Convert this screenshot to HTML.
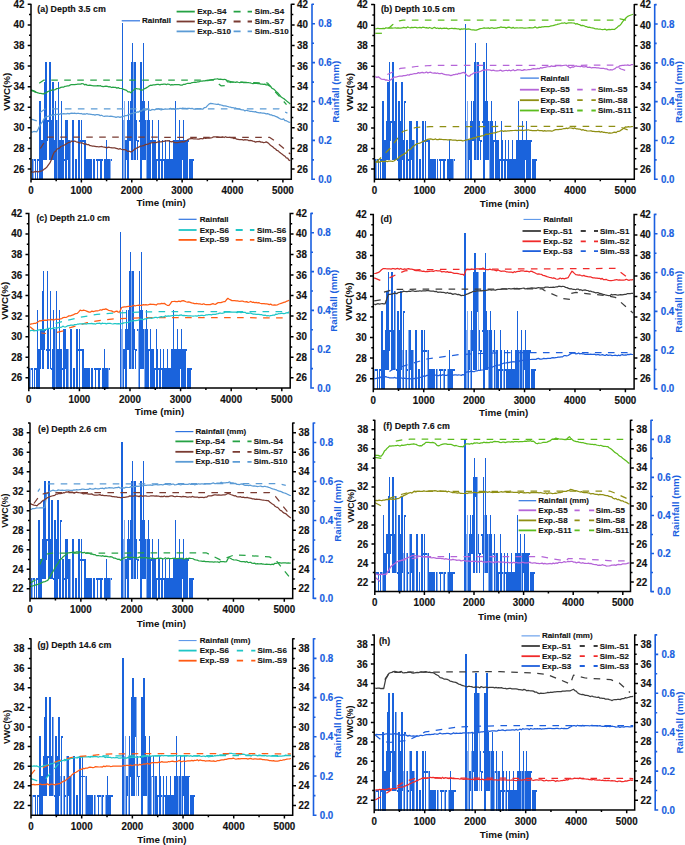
<!DOCTYPE html>
<html><head><meta charset="utf-8"><style>
html,body{margin:0;padding:0;background:#fff;}
svg{display:block;}
</style></head><body>
<svg width="685" height="845" viewBox="0 0 685 845">
<rect width="685" height="845" fill="#fff"/>
<path d="M33.5 179.8V159.36M57.5 179.8V120.47M70.5 179.8V139.91M110.5 179.8V159.36M123.5 179.8V120.47M124.5 179.8V101.02M133.5 160.36V62.13M140.5 179.8V120.47M146.5 179.8V120.47" stroke="#86aef0" stroke-width="1" fill="none" shape-rendering="crispEdges"/>
<path d="M32.5 179.8V159.36M34.5 161.33V159.36M35.5 179.8V159.36M37.5 179.8V159.36M38.5 161.33V159.36M39.5 179.8V159.36M40.5 179.8V101.02M41.5 179.8V139.91M42.5 179.8V139.91M43.5 160.36V120.47M44.5 140.91V120.47M45.5 160.36V81.58M46.5 160.36V62.13M47.5 140.91V120.47M48.5 122.44V120.47M49.5 141.88V139.91M50.5 160.36V62.13M51.5 160.36V120.47M52.5 141.88V139.91M53.5 160.36V81.58M54.5 179.8V139.91M55.5 179.8V101.02M56.5 179.8V120.47M58.5 160.36V81.58M59.5 179.8V139.91M60.5 179.8V139.91M61.5 102.99V101.02M62.5 179.8V139.91M63.5 179.8V139.91M64.5 161.33V159.36M65.5 179.8V120.47M66.5 179.8V120.47M67.5 160.36V120.47M68.5 179.8V139.91M69.5 179.8V139.91M72.5 179.8V120.47M73.5 179.8V120.47M75.5 179.8V159.36M76.5 179.8V159.36M78.5 179.8V120.47M79.5 179.8V120.47M80.5 141.88V139.91M81.5 179.8V120.47M82.5 141.88V139.91M83.5 141.88V139.91M84.5 179.8V139.91M85.5 179.8V139.91M86.5 179.8V159.36M87.5 179.8V159.36M88.5 179.8V159.36M89.5 179.8V159.36M90.5 179.8V159.36M91.5 179.8V159.36M93.5 179.8V159.36M94.5 179.8V159.36M96.5 161.33V159.36M97.5 179.8V159.36M98.5 161.33V159.36M99.5 161.33V159.36M100.5 179.8V159.36M101.5 179.8V159.36M102.5 161.33V159.36M104.5 179.8V159.36M105.5 179.8V159.36M106.5 179.8V139.91M107.5 179.8V159.36M108.5 179.8V159.36M109.5 179.8V159.36M111.5 161.33V159.36M122.5 179.8V23.24M125.5 179.8V139.91M126.5 160.36V139.91M127.5 179.8V120.47M128.5 179.8V101.02M129.5 140.91V120.47M130.5 140.91V101.02M131.5 160.36V62.13M132.5 160.36V42.69M134.5 102.02V62.13M135.5 160.36V62.13M136.5 140.91V120.47M137.5 160.36V139.91M138.5 141.88V139.91M139.5 122.44V120.47M141.5 179.8V62.13M142.5 160.36V101.02M143.5 160.36V42.69M144.5 160.36V101.02M145.5 160.36V120.47M147.5 179.8V120.47M148.5 179.8V101.02M149.5 179.8V120.47M150.5 179.8V139.91M151.5 141.88V139.91M152.5 179.8V120.47M153.5 179.8V139.91M154.5 179.8V139.91M155.5 179.8V139.91M156.5 179.8V159.36M157.5 161.33V159.36M158.5 179.8V120.47M159.5 179.8V139.91M160.5 161.33V159.36M161.5 179.8V159.36M162.5 179.8V139.91M163.5 161.33V159.36M164.5 179.8V159.36M165.5 179.8V139.91M166.5 179.8V159.36M167.5 179.8V159.36M168.5 179.8V159.36M169.5 179.8V139.91M170.5 179.8V159.36M171.5 179.8V159.36M172.5 179.8V159.36M173.5 179.8V139.91M174.5 179.8V139.91M175.5 179.8V101.02M176.5 179.8V139.91M177.5 179.8V139.91M178.5 179.8V139.91M179.5 179.8V120.47M180.5 179.8V139.91M181.5 179.8V139.91M182.5 160.36V139.91M183.5 179.8V120.47M184.5 179.8V139.91M185.5 179.8V139.91M186.5 179.8V139.91M187.5 179.8V139.91M188.5 141.88V139.91M189.5 179.8V159.36M190.5 179.8V159.36M191.5 179.8V159.36M192.5 179.8V159.36M193.5 161.33V159.36M45.5 160.36V62.13M49.5 160.36V62.13M44.5 160.36V81.58M52.5 160.36V81.58M58.5 179.8V81.58M39.5 179.8V101.02M55.5 179.8V101.02M61.5 179.8V101.02M122.5 179.8V23.24M132.5 160.36V42.69M143.5 160.36V42.69M140.5 179.8V62.13M131.5 160.36V62.13M134.5 160.36V62.13" stroke="#1a63dc" stroke-width="1" fill="none" shape-rendering="crispEdges"/>
<polyline points="31.3,90.7 32.62,90.88 33.94,91.21 35.26,92.12 36.58,92.41 37.9,92.8 39.25,93.28 40.6,93.37 41.95,93.58 43.3,94 44.62,93.06 45.94,93.1 47.26,91.93 48.58,91.28 49.9,90.7 51.26,90.43 52.62,89.64 53.99,89.96 55.35,89.53 56.71,88.63 58.07,88.46 59.44,88.19 60.8,87.4 62.17,87.03 63.55,87.18 64.92,86.28 66.3,86.14 67.67,85.85 69.05,85.79 70.42,84.87 71.8,84.5 73.27,84.58 74.73,84.52 76.2,84.48 77.67,84.06 79.13,84.23 80.6,84.1 81.91,83.67 83.22,83.75 84.53,84.81 85.84,84.4 87.15,85.15 88.46,85.47 89.77,85.14 91.08,85.35 92.39,85.74 93.7,85.8 95.07,85.75 96.44,85.96 97.81,85.67 99.17,85.92 100.54,85.74 101.91,86.45 103.28,86.73 104.65,86.47 106.02,86.24 107.39,86.41 108.76,86.88 110.12,86.67 111.49,87.51 112.86,87.2 114.23,87.29 115.6,87.4 116.92,88.14 118.24,87.56 119.56,88.48 120.88,88.5 122.2,88.5 123.65,89.43 125.1,89.83 126.55,90.34 128,91.91 129.45,91.83 130.9,92.8 132.37,90.82 133.83,89.94 135.3,88.5 136.62,88.61 137.94,89 139.26,88.88 140.58,90.06 141.9,90.2 143.35,89.5 144.8,88.59 146.25,87.88 147.7,86.94 149.15,85.89 150.6,85.2 151.92,85.3 153.24,84.78 154.56,84.89 155.88,84.61 157.2,84.38 158.52,84.4 159.84,84.78 161.16,84.42 162.48,84.42 163.8,84.1 165.14,84.14 166.48,84.57 167.81,84 169.15,84.32 170.49,85.05 171.82,84.6 173.16,84.85 174.5,84.7 176.02,84.56 177.54,84.65 179.06,84.64 180.58,85.06 182.1,85.2 183.53,84.27 184.95,84.39 186.38,83.75 187.8,83.26 189.22,83.4 190.65,83.3 192.07,82.56 193.5,82.4 194.93,82.2 196.35,82.28 197.78,81.82 199.2,81.77 200.62,81.24 202.05,81.16 203.47,80.79 204.9,80.9 206.31,80.42 207.72,80.51 209.14,80.33 210.55,79.89 211.96,79.55 213.38,79.68 214.79,79.21 216.2,79 217.56,78.75 218.91,79.37 220.27,79.05 221.63,79.26 222.99,79.64 224.34,79.4 225.7,79.5 227.6,81.8 228.93,81.8 230.26,82.5 231.59,81.96 232.92,82.19 234.25,82.11 235.58,82.3 236.91,81.8 238.24,82.23 239.57,82.58 240.9,82.4 242.23,82.23 243.56,82.65 244.89,82.73 246.22,82.5 247.55,82.52 248.88,82.73 250.21,82.84 251.54,83.24 252.87,83.57 254.2,83.3 255.53,83.5 256.86,83.33 258.19,83.66 259.52,83.56 260.85,84.04 262.18,84.07 263.51,84.45 264.84,84.11 266.17,85 267.5,84.7 269.02,85.62 270.54,86.46 272.06,88.42 273.58,89.02 275.1,90.4 276.62,92.07 278.14,93.3 279.66,95.18 281.18,97.04 282.7,98 284.22,98.91 285.74,100.14 287.26,101.6 288.78,102.65 290.3,104" fill="none" stroke="#25a244" stroke-width="1.25" stroke-linejoin="round"/>
<polyline points="31,89.8 36,91.8" fill="none" stroke="#25a244" stroke-width="1.25" stroke-linejoin="round" stroke-dasharray="6.6 6.4"/>
<polyline points="39.2,83.2 44,80 214,80 221,85.8 226,85.5 227.5,80.5 232,82 267.5,83 286.5,104.6" fill="none" stroke="#25a244" stroke-width="1.25" stroke-linejoin="round" stroke-dasharray="6.6 6.4"/>
<polyline points="31.2,131.8 32.6,132.04 34,131.45 35.4,131.53 36.8,131.8 38.23,129.06 39.67,125.87 41.1,123.5 42.57,121.52 44.03,118.87 45.5,116.9 46.97,116.8 48.43,116.1 49.9,116.22 51.37,114.98 52.83,115.41 54.3,114.7 55.65,114.59 56.99,114.28 58.34,114.18 59.68,114.29 61.03,113.67 62.38,113.8 63.72,113.67 65.07,113.96 66.42,113.79 67.76,113.43 69.11,113.92 70.45,113.31 71.8,113.2 73.17,113.34 74.54,113.05 75.91,113.52 77.28,113.34 78.64,113.25 80.01,113.73 81.38,113.5 82.75,114.19 84.12,113.94 85.49,114.19 86.86,113.52 88.22,114.07 89.59,114.1 90.96,114.27 92.33,114.66 93.7,114.7 95.02,115.16 96.33,114.53 97.64,114.69 98.96,114.91 100.28,115.65 101.59,115.25 102.91,115.99 104.22,116.3 105.53,116.16 106.85,116.08 108.17,116.23 109.48,116.31 110.8,116.23 112.11,116.32 113.42,116.7 114.74,116.85 116.06,117.3 117.37,116.98 118.69,116.93 120,117.4 121.36,116.81 122.72,116.73 124.09,116.16 125.45,115.69 126.81,115.67 128.18,114.66 129.54,114.51 130.9,113.6 132.21,113.28 133.52,113.09 134.83,112.63 136.14,112.57 137.45,111.86 138.76,112.01 140.07,110.8 141.38,111.12 142.69,109.76 144,109.9 145.32,110.2 146.64,109.71 147.96,109.15 149.28,110.18 150.6,110.42 151.92,109.49 153.24,109.52 154.56,109.94 155.88,109.12 157.2,109.22 158.52,108.7 159.84,109.47 161.16,109.92 162.48,109.39 163.8,109.3 165.15,108.98 166.49,109.14 167.84,109.03 169.19,108.94 170.53,108.33 171.88,109.13 173.23,108.63 174.57,109.46 175.92,109.15 177.27,108.63 178.61,108.89 179.96,108.26 181.31,108.64 182.65,108.06 184,108.4 185.36,108.4 186.71,108.71 188.07,108.3 189.43,108.46 190.79,108.62 192.14,108.42 193.5,109.03 194.86,109.07 196.21,108.93 197.57,108.64 198.93,108.9 200.29,108.7 201.64,109 203,109 204.5,107.55 206,107.28 207.5,105.67 209,104.16 210.5,103.3 212.4,103.63 214.3,104 215.63,104.22 216.96,104.38 218.29,104.08 219.62,104.82 220.95,104.99 222.28,105.34 223.61,105.88 224.94,105.83 226.27,106.14 227.6,106.5 228.93,106.92 230.26,107.02 231.59,107.65 232.92,107.59 234.25,108 235.58,107.96 236.91,108.74 238.24,108.96 239.57,109.11 240.9,109.7 242.23,109.84 243.56,109.87 244.89,110.96 246.22,110.26 247.55,110.63 248.88,111.02 250.21,111.43 251.54,111.34 252.87,111.51 254.2,111.91 255.53,111.65 256.86,112.48 258.19,112.53 259.52,112.82 260.85,112.74 262.18,113.13 263.51,113.04 264.84,113.45 266.17,113.83 267.5,113.7 268.84,114.08 270.18,114.89 271.52,114.91 272.86,115.7 274.21,115.7 275.55,116.33 276.89,116.84 278.23,117.63 279.57,118.5 280.91,119.13 282.25,119.41 283.59,118.86 284.94,120.57 286.28,120.71 287.62,121.51 288.96,122.14 290.3,122.3" fill="none" stroke="#5b9bd5" stroke-width="1.25" stroke-linejoin="round"/>
<polyline points="31.2,119.1 36.8,120.9" fill="none" stroke="#5b9bd5" stroke-width="1.25" stroke-linejoin="round" stroke-dasharray="6.6 6.4"/>
<polyline points="40,112.5 45.5,108.8 278.9,108.8 287.4,113.1" fill="none" stroke="#5b9bd5" stroke-width="1.25" stroke-linejoin="round" stroke-dasharray="6.6 6.4"/>
<polyline points="31.3,171.7 32.7,172.05 34.1,172.01 35.5,171.34 36.9,171.69 38.3,171.89 39.7,171.28 41.1,171.2 42.57,170.5 44.03,169.24 45.5,168.4 46.97,166.94 48.43,164.82 49.9,162.9 51.37,159.75 52.83,155.32 54.3,152 55.6,151.38 56.9,149.24 58.2,148.48 59.5,148.1 60.8,146.5 62.17,145.98 63.55,145.46 64.92,144.67 66.3,143.84 67.67,142.98 69.05,142.33 70.42,142.12 71.8,141 73.27,141.61 74.73,140.95 76.2,141.77 77.67,142.07 79.13,142.79 80.6,142.8 81.91,142.88 83.22,143.46 84.53,144.22 85.84,143.81 87.15,144.68 88.46,144.5 89.77,145.6 91.08,145.72 92.39,146.16 93.7,146.1 95.02,146.32 96.33,146.53 97.64,146.66 98.96,146.76 100.28,146.74 101.59,146.47 102.91,146.9 104.22,147.04 105.53,147.32 106.85,147.92 108.17,147.15 109.48,147.33 110.8,147.73 112.11,147.98 113.42,147.85 114.74,147.98 116.06,148.31 117.37,148.65 118.69,149.22 120,148.7 121.36,149.23 122.72,149.68 124.09,149.63 125.45,149.75 126.81,150.69 128.18,151.48 129.54,151.25 130.9,152 132.22,151.2 133.54,150.23 134.86,148.9 136.18,148.57 137.5,147.6 138.81,147.22 140.12,146.13 141.43,146.22 142.74,145.72 144.05,145.54 145.36,144.61 146.67,144.39 147.98,144.2 149.29,143.43 150.6,143.2 151.95,142.47 153.29,142.69 154.64,142.41 155.98,142.73 157.33,142.18 158.68,141.89 160.02,141.91 161.37,141.9 162.72,141.36 164.06,141.34 165.41,140.81 166.75,140.78 168.1,140.6 169.7,141.24 171.3,141.9 172.9,141.46 174.5,142.6 175.86,142.56 177.21,142.7 178.57,142.47 179.93,142.05 181.29,141.85 182.64,141.65 184,142 185.43,141.17 186.85,140.47 188.27,139.27 189.7,138.8 191.03,138.72 192.36,138.68 193.69,138.76 195.02,138.8 196.35,138.98 197.68,139.04 199.01,139.19 200.34,138.62 201.67,138.59 203,138.8 204.32,137.95 205.64,138.45 206.96,138.14 208.28,138.25 209.6,138.08 210.92,137.78 212.24,137.54 213.56,136.89 214.88,136.92 216.2,136.9 217.53,136.82 218.86,137.06 220.19,137.28 221.52,137.16 222.85,136.95 224.18,137.5 225.51,136.75 226.84,137.34 228.17,137.44 229.5,137.4 230.93,137.56 232.35,137.76 233.78,138.53 235.2,138.15 236.62,139.14 238.05,139.33 239.47,139.54 240.9,139.7 242.23,139.65 243.56,140.12 244.89,139.67 246.22,139.92 247.55,139.95 248.88,140.6 250.21,140.49 251.54,140.64 252.87,141.2 254.2,141.43 255.53,142.07 256.86,141.64 258.19,141.57 259.52,141.39 260.85,142.09 262.18,142.17 263.51,142.65 264.84,142.5 266.17,141.85 267.5,142.6 268.84,143.62 270.18,144.93 271.52,146.06 272.86,146.84 274.21,148.24 275.55,148.98 276.89,150.47 278.23,150.87 279.57,152.34 280.91,153.33 282.25,154.2 283.59,155.39 284.94,156.19 286.28,157.82 287.62,158.08 288.96,160.07 290.3,160.6" fill="none" stroke="#7a3b32" stroke-width="1.25" stroke-linejoin="round"/>
<polyline points="40.3,148.5 47.7,137.2 269.4,137.3 275,141 290.3,154" fill="none" stroke="#7a3b32" stroke-width="1.25" stroke-linejoin="round" stroke-dasharray="6.6 6.4"/>
<path d="M31 3.7V179.3H291.3V3.7M27.7 169.01H31M291.3 169.01H294.6M29 158.71H31M291.3 158.71H293.3M27.7 148.42H31M291.3 148.42H294.6M29 138.12H31M291.3 138.12H293.3M27.7 127.83H31M291.3 127.83H294.6M29 117.54H31M291.3 117.54H293.3M27.7 107.24H31M291.3 107.24H294.6M29 96.95H31M291.3 96.95H293.3M27.7 86.65H31M291.3 86.65H294.6M29 76.36H31M291.3 76.36H293.3M27.7 66.06H31M291.3 66.06H294.6M29 55.77H31M291.3 55.77H293.3M27.7 45.48H31M291.3 45.48H294.6M29 35.18H31M291.3 35.18H293.3M27.7 24.89H31M291.3 24.89H294.6M29 14.59H31M291.3 14.59H293.3M27.7 4.3H31M291.3 4.3H294.6M31 179.3V182.6M56.19 179.3V181.3M81.38 179.3V182.6M106.57 179.3V181.3M131.76 179.3V182.6M156.95 179.3V181.3M182.14 179.3V182.6M207.33 179.3V181.3M232.52 179.3V182.6M257.71 179.3V181.3M282.9 179.3V182.6" stroke="#000" stroke-width="1.5" fill="none"/>
<path d="M312 3.7V180M312 179.3H315M312 159.86H314M312 140.41H315M312 120.97H314M312 101.52H315M312 82.08H314M312 62.63H315M312 43.19H314M312 23.74H315M312 4.3H314" stroke="#1a5fe0" stroke-width="1.6" fill="none"/>
<g font-family="Liberation Sans" font-weight="bold" font-size="9.8" fill="#111" stroke="#111" stroke-width="0.15"><text transform="translate(24.4 172.56) scale(1 1.1)" text-anchor="end">26</text><text transform="translate(297.1 172.56) scale(1 1.1)">26</text><text transform="translate(24.4 151.97) scale(1 1.1)" text-anchor="end">28</text><text transform="translate(297.1 151.97) scale(1 1.1)">28</text><text transform="translate(24.4 131.38) scale(1 1.1)" text-anchor="end">30</text><text transform="translate(297.1 131.38) scale(1 1.1)">30</text><text transform="translate(24.4 110.79) scale(1 1.1)" text-anchor="end">32</text><text transform="translate(297.1 110.79) scale(1 1.1)">32</text><text transform="translate(24.4 90.2) scale(1 1.1)" text-anchor="end">34</text><text transform="translate(297.1 90.2) scale(1 1.1)">34</text><text transform="translate(24.4 69.61) scale(1 1.1)" text-anchor="end">36</text><text transform="translate(297.1 69.61) scale(1 1.1)">36</text><text transform="translate(24.4 49.03) scale(1 1.1)" text-anchor="end">38</text><text transform="translate(297.1 49.03) scale(1 1.1)">38</text><text transform="translate(24.4 28.44) scale(1 1.1)" text-anchor="end">40</text><text transform="translate(297.1 28.44) scale(1 1.1)">40</text><text transform="translate(24.4 7.85) scale(1 1.1)" text-anchor="end">42</text><text transform="translate(297.1 7.85) scale(1 1.1)">42</text><text transform="translate(31 194.15) scale(1 1.1)" text-anchor="middle">0</text><text transform="translate(81.38 194.15) scale(1 1.1)" text-anchor="middle">1000</text><text transform="translate(131.76 194.15) scale(1 1.1)" text-anchor="middle">2000</text><text transform="translate(182.14 194.15) scale(1 1.1)" text-anchor="middle">3000</text><text transform="translate(232.52 194.15) scale(1 1.1)" text-anchor="middle">4000</text><text transform="translate(282.9 194.15) scale(1 1.1)" text-anchor="middle">5000</text></g>
<g font-family="Liberation Sans" font-weight="bold" font-size="9.8" fill="#1a5fe0" stroke="#1a5fe0" stroke-width="0.15"><text transform="translate(318.2 182.85) scale(1 1.1)">0.0</text><text transform="translate(318.2 143.96) scale(1 1.1)">0.2</text><text transform="translate(318.2 105.07) scale(1 1.1)">0.4</text><text transform="translate(318.2 66.18) scale(1 1.1)">0.6</text><text transform="translate(318.2 27.29) scale(1 1.1)">0.8</text></g>
<text font-family="Liberation Sans" font-weight="bold" font-size="9.8" fill="#111" x="161.15" y="206.4" text-anchor="middle">Time (min)</text>
<text font-family="Liberation Sans" font-weight="bold" font-size="9.8" fill="#111" text-anchor="middle" transform="translate(9.8 91.8) rotate(-90)">VWC(%)</text>
<text font-family="Liberation Sans" font-weight="bold" font-size="9.8" fill="#1a5fe0" text-anchor="middle" transform="translate(339.3 91.8) rotate(-90)">Rainfall (mm)</text>
<text font-family="Liberation Sans" font-weight="bold" font-size="8.9" fill="#111" stroke="#111" stroke-width="0.12" x="37.3" y="12.2">(a) Depth 3.5 cm</text>
<g font-family="Liberation Sans" font-weight="bold" font-size="8.0" fill="#111" stroke="#111" stroke-width="0.12"><path d="M121.7 20.8H140" stroke="#2f74e0" stroke-width="1.2"/><text x="142" y="23.3">Rainfall</text><path d="M176.6 11.6H194.8" stroke="#25a244" stroke-width="1.8"/><path d="M233.6 11.6H240.6M247.6 11.6H252" stroke="#25a244" stroke-width="1.8"/><text x="197.2" y="14.1">Exp.-S4</text><text x="254.8" y="14.1">Sim.-S4</text><path d="M176.6 21.5H194.8" stroke="#7a3b32" stroke-width="1.8"/><path d="M233.6 21.5H240.6M247.6 21.5H252" stroke="#7a3b32" stroke-width="1.8"/><text x="197.2" y="24">Exp.-S7</text><text x="254.8" y="24">Sim.-S7</text><path d="M176.6 31.4H194.8" stroke="#5b9bd5" stroke-width="1.8"/><path d="M233.6 31.4H240.6M247.6 31.4H252" stroke="#5b9bd5" stroke-width="1.8"/><text x="197.2" y="33.9">Exp.-S10</text><text x="254.8" y="33.9">Sim.-S10</text></g>
<path d="M376.5 179.8V159.39M401.5 179.8V120.57M414.5 179.8V139.98M453.5 179.8V159.39M466.5 179.8V120.57M467.5 179.8V101.16M476.5 160.39V62.33M483.5 179.8V120.57M489.5 179.8V120.57" stroke="#86aef0" stroke-width="1" fill="none" shape-rendering="crispEdges"/>
<path d="M375.5 179.8V159.39M377.5 161.36V159.39M378.5 179.8V159.39M380.5 179.8V159.39M381.5 161.36V159.39M382.5 179.8V159.39M383.5 179.8V101.16M384.5 179.8V139.98M385.5 179.8V139.98M386.5 160.39V120.57M387.5 140.98V120.57M388.5 160.39V81.74M389.5 160.39V62.33M390.5 140.98V120.57M391.5 122.54V120.57M392.5 141.95V139.98M393.5 160.39V62.33M394.5 160.39V120.57M395.5 141.95V139.98M396.5 160.39V81.74M397.5 161.36V159.39M398.5 179.8V139.98M399.5 179.8V101.16M400.5 179.8V120.57M402.5 160.39V81.74M403.5 179.8V139.98M404.5 179.8V139.98M405.5 103.13V101.16M406.5 179.8V139.98M407.5 179.8V139.98M408.5 161.36V159.39M409.5 179.8V120.57M410.5 179.8V120.57M411.5 160.39V120.57M412.5 179.8V139.98M413.5 179.8V139.98M416.5 179.8V120.57M417.5 179.8V120.57M419.5 179.8V159.39M420.5 179.8V159.39M422.5 179.8V120.57M423.5 179.8V120.57M424.5 141.95V139.98M425.5 179.8V120.57M426.5 141.95V139.98M427.5 141.95V139.98M428.5 179.8V139.98M429.5 179.8V139.98M430.5 179.8V159.39M431.5 179.8V159.39M432.5 179.8V159.39M433.5 179.8V159.39M434.5 179.8V159.39M435.5 179.8V159.39M437.5 179.8V159.39M439.5 161.36V159.39M440.5 179.8V159.39M441.5 161.36V159.39M442.5 161.36V159.39M443.5 179.8V159.39M444.5 179.8V159.39M445.5 161.36V159.39M447.5 179.8V159.39M448.5 179.8V159.39M449.5 179.8V139.98M450.5 179.8V159.39M451.5 179.8V159.39M452.5 179.8V159.39M454.5 161.36V159.39M465.5 179.8V23.51M468.5 179.8V139.98M469.5 160.39V139.98M470.5 179.8V120.57M471.5 179.8V101.16M472.5 140.98V120.57M473.5 140.98V101.16M474.5 160.39V62.33M475.5 160.39V42.92M477.5 102.16V62.33M478.5 160.39V62.33M479.5 140.98V120.57M480.5 160.39V139.98M481.5 141.95V139.98M482.5 122.54V120.57M484.5 179.8V62.33M485.5 160.39V101.16M486.5 160.39V42.92M487.5 160.39V101.16M488.5 160.39V120.57M490.5 179.8V120.57M491.5 179.8V101.16M492.5 179.8V120.57M493.5 179.8V139.98M494.5 141.95V139.98M495.5 179.8V120.57M496.5 179.8V139.98M497.5 179.8V139.98M498.5 179.8V139.98M499.5 179.8V159.39M500.5 161.36V159.39M501.5 179.8V120.57M502.5 179.8V139.98M503.5 161.36V159.39M504.5 179.8V159.39M505.5 179.8V139.98M506.5 161.36V159.39M507.5 179.8V159.39M508.5 179.8V139.98M509.5 179.8V159.39M510.5 179.8V159.39M511.5 179.8V159.39M512.5 179.8V139.98M513.5 179.8V159.39M514.5 179.8V159.39M515.5 179.8V159.39M516.5 179.8V139.98M517.5 179.8V139.98M518.5 179.8V101.16M519.5 179.8V139.98M520.5 179.8V139.98M521.5 179.8V139.98M522.5 179.8V120.57M523.5 179.8V139.98M524.5 179.8V139.98M525.5 160.39V139.98M526.5 179.8V120.57M527.5 179.8V139.98M528.5 179.8V139.98M529.5 179.8V139.98M530.5 179.8V139.98M531.5 141.95V139.98M532.5 179.8V159.39M533.5 179.8V159.39M534.5 179.8V159.39M535.5 179.8V159.39M536.5 161.36V159.39M389.5 160.39V62.33M392.5 160.39V62.33M387.5 160.39V81.74M395.5 160.39V81.74M401.5 179.8V81.74M382.5 179.8V101.16M398.5 179.8V101.16M404.5 179.8V101.16M465.5 179.8V23.51M475.5 160.39V42.92M486.5 160.39V42.92M483.5 179.8V62.33M474.5 160.39V62.33M477.5 160.39V62.33" stroke="#1a63dc" stroke-width="1" fill="none" shape-rendering="crispEdges"/>
<polyline points="375.3,28.9 376.63,28.68 377.96,28.24 379.29,28.72 380.61,28.51 381.94,28.68 383.27,28.31 384.6,28.7 385.93,27.72 387.26,28.2 388.59,27.76 389.91,28.14 391.24,27.82 392.57,28.09 393.9,28 395.27,27.94 396.64,28.07 398.01,27.97 399.38,28.2 400.74,28.07 402.11,27.99 403.48,27.42 404.85,27.56 406.22,28.01 407.59,26.95 408.96,27.51 410.32,27.81 411.69,27.39 413.06,27.66 414.43,27.42 415.8,27.4 417.17,27.87 418.54,27.71 419.91,27.44 421.27,27.85 422.64,27.24 424.01,27.29 425.38,27.78 426.75,27.64 428.12,28.25 429.49,27.48 430.86,28.03 432.23,28.56 433.59,27.72 434.96,27.46 436.33,28.41 437.7,28 439.01,28.55 440.33,28.13 441.64,28.53 442.96,28.27 444.27,28.18 445.59,28.44 446.9,28.18 448.22,29.03 449.53,28.55 450.85,28.49 452.17,28.35 453.48,28.57 454.8,28.37 456.11,28.58 457.43,28.98 458.74,28.82 460.06,29.59 461.37,28.88 462.69,29.21 464,28.9 465.38,28.78 466.75,29.43 468.12,28.92 469.5,29.18 470.88,29.55 472.25,29.8 473.62,29.81 475,30.2 476.32,30.18 477.64,29.7 478.96,29.08 480.28,28.59 481.6,28.5 482.97,28.21 484.34,27.85 485.71,28.24 487.08,28.22 488.44,27.94 489.81,28.5 491.18,27.75 492.55,27.98 493.92,28.3 495.29,28.03 496.66,28.11 498.02,27.65 499.39,27.66 500.76,26.97 502.13,27.36 503.5,27.4 504.88,27.4 506.25,28.15 507.63,27.41 509.01,27.07 510.38,27.68 511.76,28.1 513.14,27.39 514.51,28.24 515.89,27.84 517.26,27.89 518.64,28 520.02,27.91 521.39,27.91 522.77,27.82 524.15,28.23 525.52,28.19 526.9,28 528.27,27.8 529.64,27.57 531.01,27.77 532.38,27.99 533.74,27.73 535.11,26.82 536.48,27.78 537.85,27.84 539.22,27.07 540.59,27.41 541.96,26.94 543.32,26.94 544.69,26.7 546.06,26.54 547.43,26.51 548.8,26.7 550.11,26.23 551.42,25.93 552.73,25.69 554.04,25.3 555.35,24.98 556.66,24.74 557.97,24.19 559.28,23.88 560.59,23.51 561.9,23 563.26,23.23 564.62,22.74 565.99,23.55 567.35,23.21 568.71,22.89 570.07,22.96 571.44,22.84 572.8,23 574.2,23.11 575.6,24.09 577,23.63 578.4,24.34 579.8,24.68 581.2,25.64 582.6,25.34 584,25.76 585.4,26.55 586.8,26.74 588.2,27.4 589.51,27.24 590.82,27.65 592.13,27.81 593.44,28.02 594.75,28.56 596.06,28.92 597.37,28.81 598.68,29.24 599.99,29 601.3,29.5 602.61,29.62 603.92,29.47 605.23,29.16 606.54,30.03 607.85,29.64 609.16,29.43 610.47,29.52 611.78,29.37 613.09,29.38 614.4,29.5 615.72,28.54 617.04,27.61 618.36,26.06 619.68,25.59 621,24.1 622.35,22.08 623.7,20.43 625.05,19 626.4,17.5 627.72,16.35 629.04,15.77 630.36,15.25 631.68,14.78 633,14.2" fill="none" stroke="#5cbd1e" stroke-width="1.25" stroke-linejoin="round"/>
<polyline points="375.3,33.3 381.9,33.3" fill="none" stroke="#5cbd1e" stroke-width="1.25" stroke-linejoin="round" stroke-dasharray="6.6 6.4"/>
<polyline points="388.4,28.5 392.8,24.5 399.4,20.8 403,20.2 616.6,20.2 620,18.8 629.7,20.8" fill="none" stroke="#5cbd1e" stroke-width="1.25" stroke-linejoin="round" stroke-dasharray="6.6 6.4"/>
<polyline points="375.3,76.7 376.84,77.35 378.38,76.84 379.92,78.02 381.46,79.2 383,79.3 384.3,79.28 385.6,80.14 386.9,79.98 388.2,80.45 389.5,80.6 390.97,79.61 392.43,78.64 393.9,77.1 395.27,77.04 396.65,76.79 398.02,76.49 399.4,76.2 400.77,76.09 402.15,76.12 403.52,75.63 404.9,75.6 406.25,75.46 407.59,74.75 408.94,75.13 410.28,74.41 411.63,74.45 412.98,73.99 414.32,73.66 415.67,73.74 417.02,73.39 418.36,72.64 419.71,73.13 421.05,72.68 422.4,72.3 423.79,72.81 425.18,72.61 426.57,71.97 427.96,73.01 429.35,72.3 430.75,72.16 432.14,73 433.53,73.05 434.92,72.93 436.31,73.45 437.7,73 439.02,73.72 440.34,73.6 441.66,73.29 442.98,73.92 444.3,74.31 445.62,74.73 446.94,74.96 448.26,74.86 449.58,75.16 450.9,75.6 452.21,75.21 453.52,74.57 454.83,74.61 456.14,74.02 457.45,74.3 458.76,73.33 460.07,73.65 461.38,73.04 462.69,72.57 464,72.3 465.47,73.71 466.93,75.17 468.4,76.2 469.72,76.01 471.04,74.5 472.36,74.05 473.68,73.03 475,72.7 476.36,72.66 477.73,72.24 479.09,71.84 480.45,71.51 481.81,70.71 483.17,70.2 484.54,70.3 485.9,69.7 487.37,69.95 488.83,69.76 490.3,70.17 491.77,70.61 493.23,70.11 494.7,70.6 496.17,70.78 497.64,70.85 499.11,70.66 500.59,70.14 502.06,71.08 503.53,70.79 505,70.5 506.37,70.26 507.74,70.79 509.11,70.11 510.48,70.77 511.84,70.43 513.21,69.7 514.58,70.72 515.95,70.34 517.32,69.7 518.69,69.97 520.06,69.79 521.42,70.34 522.79,70.38 524.16,69.6 525.53,69.97 526.9,70 528.27,69.53 529.64,69.53 531.01,69.36 532.38,68.96 533.74,68.74 535.11,68.76 536.48,68.96 537.85,68.35 539.22,68.75 540.59,67.67 541.96,68.16 543.32,67.54 544.69,67.48 546.06,67.08 547.43,66.75 548.8,66.7 550.15,66.6 551.49,65.82 552.84,66.34 554.18,66.19 555.53,66.27 556.88,65.54 558.22,65.64 559.57,65.51 560.92,65.93 562.26,65.51 563.61,65.42 564.95,65.25 566.3,65.2 567.73,66.26 569.17,67.33 570.6,67.8 572.07,66.97 573.53,67.21 575,66.1 576.37,65.94 577.74,66.48 579.11,66.29 580.48,66.64 581.84,66.17 583.21,66.95 584.58,66.99 585.95,66.35 587.32,67.36 588.69,67.48 590.06,67.21 591.42,67.97 592.79,67.63 594.16,67.6 595.53,67.56 596.9,67.8 598.29,67.77 599.68,68.13 601.07,68.27 602.46,68.25 603.85,68.48 605.25,68.94 606.64,68.89 608.03,69.67 609.42,70 610.81,69.66 612.2,70 613.67,69.3 615.13,68.58 616.6,67.11 618.07,67.23 619.53,65.94 621,65.6 622.33,65.29 623.67,65.33 625,65.05 626.33,65.25 627.67,64.84 629,65.38 630.33,65.33 631.67,64.55 633,64.6" fill="none" stroke="#b565d8" stroke-width="1.25" stroke-linejoin="round"/>
<polyline points="387.3,74.5 400.5,68.4 416,66.5 430,65.5 614.4,65.2 621,69 627.5,71.1" fill="none" stroke="#b565d8" stroke-width="1.25" stroke-linejoin="round" stroke-dasharray="6.6 6.4"/>
<polyline points="375.3,162.1 376.63,161.95 377.96,162.2 379.29,162.14 380.61,161.5 381.94,161.29 383.27,161.59 384.6,161.6 385.93,161 387.26,161.73 388.59,161.14 389.91,161.02 391.24,161.24 392.57,161.42 393.9,161 395.27,160.06 396.65,159.21 398.02,158.52 399.4,156.83 400.77,156.02 402.15,155.1 403.52,154.29 404.9,153.4 406.26,152.84 407.62,150.74 408.99,149.77 410.35,149.35 411.71,147.87 413.07,146.5 414.44,145.53 415.8,144.6 417.12,143.68 418.44,143.46 419.76,143.15 421.08,142.54 422.4,141.81 423.72,141.14 425.04,141.1 426.36,140.12 427.68,139.42 429,139.1 430.31,138.94 431.63,139.06 432.94,139.55 434.25,139.48 435.57,138.93 436.88,139.74 438.19,139.53 439.51,139.14 440.82,139.36 442.13,139.48 443.45,139.51 444.76,139.56 446.07,139.53 447.39,139.98 448.7,139.8 450.09,139.57 451.48,139.82 452.87,140.24 454.26,140.08 455.65,140.05 457.05,140.56 458.44,140.37 459.83,140.34 461.22,140.33 462.61,140.8 464,140.7 465.35,140.26 466.71,139.81 468.06,139.57 469.42,139.14 470.77,138.91 472.12,138.68 473.48,137.7 474.83,138.27 476.18,137.37 477.54,136.51 478.89,136.65 480.25,136.35 481.6,135.8 482.95,135.57 484.29,135.28 485.64,134.28 486.98,134.11 488.33,134.44 489.68,133.56 491.02,133.44 492.37,133.26 493.72,132.88 495.06,132.82 496.41,132.41 497.75,131.8 499.1,131.5 500.58,130.98 502.05,130.74 503.52,131.41 505,130.9 506.37,131.08 507.74,130.86 509.11,130.82 510.48,130.67 511.84,130.61 513.21,130.5 514.58,130.49 515.95,130.31 517.32,130.52 518.69,129.97 520.06,130.44 521.42,130.13 522.79,130.65 524.16,130.3 525.53,130 526.9,130.2 528.27,129.78 529.64,130.28 531.01,130.4 532.38,130.57 533.74,130.57 535.11,130.56 536.48,130.68 537.85,129.97 539.22,130.58 540.59,130.57 541.96,130.69 543.32,131.2 544.69,130.7 546.06,131.06 547.43,130.76 548.8,130.9 550.16,130.8 551.52,131.12 552.89,130.78 554.25,130.11 555.61,129.59 556.98,129.58 558.34,129.55 559.7,129.3 561.06,129.38 562.42,128.99 563.79,128.66 565.15,128.57 566.51,128.08 567.88,128.55 569.24,127.94 570.6,128 571.97,128.1 573.34,128.61 574.71,127.92 576.08,128.85 577.44,128.92 578.81,129.2 580.18,129.21 581.55,130.08 582.92,129.66 584.29,130.31 585.66,130.4 587.02,130.82 588.39,131 589.76,130.96 591.13,130.8 592.5,131.3 593.81,131.41 595.13,131.54 596.44,131.72 597.75,131.54 599.07,131.39 600.38,132.17 601.69,131.67 603.01,132.26 604.32,132.24 605.63,132.58 606.95,132.53 608.26,133.02 609.57,132.97 610.89,133.08 612.2,133 613.52,132.41 614.84,132.06 616.16,132.62 617.48,131.37 618.8,131.3 620.12,130.86 621.44,129.86 622.76,129.02 624.08,127.98 625.4,126.9 626.92,127.1 628.44,126.61 629.96,127 631.48,126.58 633,126.5" fill="none" stroke="#8f8f14" stroke-width="1.25" stroke-linejoin="round"/>
<polyline points="376.4,162.1 389.5,149 402.7,131.5 415.8,127.5 430,126.6 616.6,126.3 620,127 628.7,130.2" fill="none" stroke="#8f8f14" stroke-width="1.25" stroke-linejoin="round" stroke-dasharray="6.6 6.4"/>
<path d="M374.4 4V179.3H634.3V4M371.1 169.02H374.4M634.3 169.02H637.6M372.4 158.75H374.4M634.3 158.75H636.3M371.1 148.47H374.4M634.3 148.47H637.6M372.4 138.19H374.4M634.3 138.19H636.3M371.1 127.92H374.4M634.3 127.92H637.6M372.4 117.64H374.4M634.3 117.64H636.3M371.1 107.36H374.4M634.3 107.36H637.6M372.4 97.09H374.4M634.3 97.09H636.3M371.1 86.81H374.4M634.3 86.81H637.6M372.4 76.54H374.4M634.3 76.54H636.3M371.1 66.26H374.4M634.3 66.26H637.6M372.4 55.98H374.4M634.3 55.98H636.3M371.1 45.71H374.4M634.3 45.71H637.6M372.4 35.43H374.4M634.3 35.43H636.3M371.1 25.15H374.4M634.3 25.15H637.6M372.4 14.88H374.4M634.3 14.88H636.3M371.1 4.6H374.4M634.3 4.6H637.6M374.4 179.3V182.6M399.5 179.3V181.3M424.6 179.3V182.6M449.7 179.3V181.3M474.8 179.3V182.6M499.9 179.3V181.3M525 179.3V182.6M550.1 179.3V181.3M575.2 179.3V182.6M600.3 179.3V181.3M625.4 179.3V182.6" stroke="#000" stroke-width="1.5" fill="none"/>
<path d="M654.7 4V180M654.7 179.3H657.7M654.7 159.89H656.7M654.7 140.48H657.7M654.7 121.07H656.7M654.7 101.66H657.7M654.7 82.24H656.7M654.7 62.83H657.7M654.7 43.42H656.7M654.7 24.01H657.7M654.7 4.6H656.7" stroke="#1a5fe0" stroke-width="1.6" fill="none"/>
<g font-family="Liberation Sans" font-weight="bold" font-size="9.8" fill="#111" stroke="#111" stroke-width="0.15"><text transform="translate(367.8 172.57) scale(1 1.1)" text-anchor="end">26</text><text transform="translate(640.1 172.57) scale(1 1.1)">26</text><text transform="translate(367.8 152.02) scale(1 1.1)" text-anchor="end">28</text><text transform="translate(640.1 152.02) scale(1 1.1)">28</text><text transform="translate(367.8 131.47) scale(1 1.1)" text-anchor="end">30</text><text transform="translate(640.1 131.47) scale(1 1.1)">30</text><text transform="translate(367.8 110.91) scale(1 1.1)" text-anchor="end">32</text><text transform="translate(640.1 110.91) scale(1 1.1)">32</text><text transform="translate(367.8 90.36) scale(1 1.1)" text-anchor="end">34</text><text transform="translate(640.1 90.36) scale(1 1.1)">34</text><text transform="translate(367.8 69.81) scale(1 1.1)" text-anchor="end">36</text><text transform="translate(640.1 69.81) scale(1 1.1)">36</text><text transform="translate(367.8 49.26) scale(1 1.1)" text-anchor="end">38</text><text transform="translate(640.1 49.26) scale(1 1.1)">38</text><text transform="translate(367.8 28.7) scale(1 1.1)" text-anchor="end">40</text><text transform="translate(640.1 28.7) scale(1 1.1)">40</text><text transform="translate(367.8 8.15) scale(1 1.1)" text-anchor="end">42</text><text transform="translate(640.1 8.15) scale(1 1.1)">42</text><text transform="translate(374.4 194.15) scale(1 1.1)" text-anchor="middle">0</text><text transform="translate(424.6 194.15) scale(1 1.1)" text-anchor="middle">1000</text><text transform="translate(474.8 194.15) scale(1 1.1)" text-anchor="middle">2000</text><text transform="translate(525 194.15) scale(1 1.1)" text-anchor="middle">3000</text><text transform="translate(575.2 194.15) scale(1 1.1)" text-anchor="middle">4000</text><text transform="translate(625.4 194.15) scale(1 1.1)" text-anchor="middle">5000</text></g>
<g font-family="Liberation Sans" font-weight="bold" font-size="9.8" fill="#1a5fe0" stroke="#1a5fe0" stroke-width="0.15"><text transform="translate(660.9 182.85) scale(1 1.1)">0.0</text><text transform="translate(660.9 144.03) scale(1 1.1)">0.2</text><text transform="translate(660.9 105.21) scale(1 1.1)">0.4</text><text transform="translate(660.9 66.38) scale(1 1.1)">0.6</text><text transform="translate(660.9 27.56) scale(1 1.1)">0.8</text></g>
<text font-family="Liberation Sans" font-weight="bold" font-size="9.8" fill="#111" x="504.35" y="206.9" text-anchor="middle">Time (min)</text>
<text font-family="Liberation Sans" font-weight="bold" font-size="9.8" fill="#111" text-anchor="middle" transform="translate(352.5 91.95) rotate(-90)">VWC(%)</text>
<text font-family="Liberation Sans" font-weight="bold" font-size="9.8" fill="#1a5fe0" text-anchor="middle" transform="translate(681.8 91.95) rotate(-90)">Rainfall (mm)</text>
<text font-family="Liberation Sans" font-weight="bold" font-size="8.9" fill="#111" stroke="#111" stroke-width="0.12" x="380.9" y="12.2">(b) Depth 10.5 cm</text>
<g font-family="Liberation Sans" font-weight="bold" font-size="8.0" fill="#111" stroke="#111" stroke-width="0.12"><path d="M520.3 78.1H538.9" stroke="#2f74e0" stroke-width="1.2"/><text x="540.4" y="80.6">Rainfall</text><path d="M519.9 89.7H538.9" stroke="#b565d8" stroke-width="1.8"/><path d="M577.2 89.7H582.7M591.4 89.7H595.8" stroke="#b565d8" stroke-width="1.8"/><text x="540.4" y="92.2">Exp.-S5</text><text x="598" y="92.2">Sim.-S5</text><path d="M519.9 100.2H538.9" stroke="#8f8f14" stroke-width="1.8"/><path d="M577.2 100.2H582.7M591.4 100.2H595.8" stroke="#8f8f14" stroke-width="1.8"/><text x="540.4" y="102.7">Exp.-S8</text><text x="598" y="102.7">Sim.-S8</text><path d="M519.9 110.5H538.9" stroke="#5cbd1e" stroke-width="1.8"/><path d="M577.2 110.5H582.7M591.4 110.5H595.8" stroke="#5cbd1e" stroke-width="1.8"/><text x="540.4" y="113">Exp.-S11</text><text x="598" y="113">Sim.-S11</text></g>
<path d="M30.5 388.5V368.1M55.5 388.5V329.3M68.5 388.5V348.7M108.5 388.5V368.1M121.5 388.5V329.3M122.5 388.5V309.9M131.5 369.1V271.1M138.5 388.5V329.3M144.5 388.5V329.3" stroke="#86aef0" stroke-width="1" fill="none" shape-rendering="crispEdges"/>
<path d="M29.5 388.5V368.1M31.5 370.07V368.1M32.5 388.5V368.1M34.5 388.5V368.1M35.5 370.07V368.1M36.5 388.5V368.1M37.5 388.5V309.9M38.5 388.5V348.7M39.5 388.5V348.7M40.5 369.1V329.3M41.5 349.7V329.3M42.5 369.1V290.5M43.5 369.1V271.1M44.5 349.7V329.3M45.5 331.27V329.3M46.5 350.67V348.7M47.5 369.1V271.1M48.5 369.1V329.3M49.5 350.67V348.7M50.5 369.1V290.5M51.5 370.07V368.1M52.5 388.5V348.7M53.5 388.5V309.9M54.5 388.5V329.3M56.5 369.1V290.5M57.5 388.5V348.7M58.5 388.5V348.7M59.5 311.87V309.9M60.5 388.5V348.7M61.5 388.5V348.7M62.5 370.07V368.1M63.5 388.5V329.3M64.5 388.5V329.3M65.5 369.1V329.3M66.5 388.5V348.7M67.5 388.5V348.7M70.5 388.5V329.3M71.5 388.5V329.3M73.5 388.5V368.1M74.5 388.5V368.1M76.5 388.5V329.3M77.5 388.5V329.3M78.5 350.67V348.7M79.5 388.5V329.3M80.5 350.67V348.7M81.5 350.67V348.7M82.5 388.5V348.7M83.5 388.5V348.7M84.5 388.5V368.1M85.5 388.5V368.1M86.5 388.5V368.1M87.5 388.5V368.1M88.5 388.5V368.1M89.5 388.5V368.1M91.5 388.5V368.1M92.5 388.5V368.1M94.5 370.07V368.1M95.5 388.5V368.1M96.5 370.07V368.1M97.5 370.07V368.1M98.5 388.5V368.1M99.5 388.5V368.1M100.5 370.07V368.1M102.5 388.5V368.1M103.5 388.5V368.1M104.5 388.5V348.7M105.5 388.5V368.1M106.5 388.5V368.1M107.5 388.5V368.1M109.5 370.07V368.1M120.5 388.5V232.3M123.5 388.5V348.7M124.5 369.1V348.7M125.5 388.5V329.3M126.5 388.5V309.9M127.5 349.7V329.3M128.5 349.7V309.9M129.5 369.1V271.1M130.5 369.1V251.7M132.5 310.9V271.1M133.5 369.1V271.1M134.5 349.7V329.3M135.5 369.1V348.7M136.5 350.67V348.7M137.5 331.27V329.3M139.5 388.5V271.1M140.5 369.1V309.9M141.5 369.1V251.7M142.5 369.1V309.9M143.5 369.1V329.3M145.5 388.5V329.3M146.5 388.5V309.9M147.5 388.5V329.3M148.5 388.5V348.7M149.5 350.67V348.7M150.5 388.5V329.3M151.5 388.5V348.7M152.5 388.5V348.7M153.5 388.5V348.7M154.5 388.5V368.1M155.5 370.07V368.1M156.5 388.5V329.3M157.5 388.5V348.7M158.5 370.07V368.1M159.5 388.5V368.1M160.5 388.5V348.7M161.5 370.07V368.1M162.5 388.5V368.1M163.5 388.5V348.7M164.5 388.5V368.1M165.5 388.5V368.1M166.5 388.5V368.1M167.5 388.5V348.7M168.5 388.5V368.1M169.5 388.5V368.1M170.5 388.5V368.1M171.5 388.5V348.7M172.5 388.5V348.7M173.5 388.5V309.9M174.5 388.5V348.7M175.5 388.5V348.7M176.5 388.5V348.7M177.5 388.5V329.3M178.5 388.5V348.7M179.5 388.5V348.7M180.5 369.1V348.7M181.5 388.5V329.3M182.5 388.5V348.7M183.5 388.5V348.7M184.5 388.5V348.7M185.5 388.5V348.7M186.5 350.67V348.7M187.5 388.5V368.1M188.5 388.5V368.1M189.5 388.5V368.1M190.5 388.5V368.1M191.5 370.07V368.1M43.5 369.1V271.1M47.5 369.1V271.1M42.5 369.1V290.5M50.5 369.1V290.5M56.5 388.5V290.5M37.5 388.5V309.9M53.5 388.5V309.9M59.5 388.5V309.9M120.5 388.5V232.3M130.5 369.1V251.7M141.5 369.1V251.7M139.5 388.5V271.1M129.5 369.1V271.1M132.5 369.1V271.1" stroke="#1a63dc" stroke-width="1" fill="none" shape-rendering="crispEdges"/>
<polyline points="30,324.3 31.48,323.84 32.95,323.71 34.42,323.43 35.9,323.3 37.85,321.94 39.8,320.7 41.12,320.87 42.43,320.3 43.75,320.45 45.07,320.11 46.38,320.36 47.7,319.9 49.11,319.77 50.53,319.83 51.94,319.45 53.36,320.05 54.77,319.58 56.19,319.01 57.6,319.3 59,319.27 60.4,318.81 61.8,318.59 63.2,317.55 64.6,317.36 66,317.5 67.4,316.8 68.81,315.89 70.23,315.99 71.64,315.4 73.06,314.93 74.47,314.16 75.89,313.52 77.3,313.4 78.75,311.92 80.2,310.1 81.87,310.73 83.53,310.2 85.2,310.5 87.15,311.32 89.1,312.1 90.51,312.05 91.93,311.14 93.34,311.55 94.76,311.23 96.17,310.87 97.59,310.89 99,310.5 100.36,309.77 101.72,310.11 103.08,309.3 104.44,309.4 105.8,308.9 107.3,309.59 108.8,310.5 110.15,310.74 111.5,310.89 112.85,311.59 114.2,312.11 115.55,311.46 116.9,311.04 118.25,312.2 119.6,312.1 121.6,307.5 122.95,307.14 124.29,306.88 125.64,306.82 126.98,306.53 128.33,306.34 129.67,306.29 131.02,306.5 132.36,305.97 133.71,305.25 135.05,306.03 136.4,305.5 137.78,305.32 139.16,305.17 140.54,305.49 141.92,305.26 143.3,304.61 144.68,304.83 146.06,304.69 147.44,305 148.82,304.59 150.2,304.2 151.8,304.36 153.4,304.37 155,304.6 156.32,305 157.63,303.87 158.95,303.77 160.27,303.83 161.58,303.32 162.9,303.6 164.38,303.37 165.85,304.44 167.33,305.29 168.8,305.5 170.3,303.79 171.8,301.6 173.22,301.5 174.64,301.29 176.07,301.7 177.49,301.59 178.91,301.15 180.33,301.57 181.76,300.92 183.18,300.7 184.6,301.2 186,301.73 187.4,302.17 188.8,301.92 190.2,302.31 191.6,302.89 193,303.11 194.4,303.6 195.72,303.62 197.03,303.49 198.35,303.8 199.67,303.83 200.98,304.16 202.3,304.39 203.62,303.78 204.93,304.34 206.25,304.68 207.57,304.62 208.88,304.56 210.2,304.6 211.55,304.11 212.89,303.71 214.24,304.15 215.58,304.27 216.93,303.38 218.27,302.52 219.62,302.65 220.96,302.63 222.31,302.12 223.65,301.74 225,301.6 226.45,299.78 227.9,298.3 229.23,299.22 230.57,299.88 231.9,300.6 233.25,300.74 234.6,300.51 235.95,300.93 237.3,300.86 238.65,301.22 240,301.38 241.35,301.01 242.7,301.01 244.05,301.75 245.4,301.93 246.75,301.55 248.1,302.41 249.45,302.01 250.8,301.41 252.15,302.26 253.5,302.2 254.82,302.76 256.13,302.43 257.45,302.79 258.77,302.65 260.08,303.25 261.4,303.57 262.72,303.56 264.03,303.67 265.35,303.9 266.67,303.98 267.98,304.12 269.3,304.6 270.62,304.1 271.93,304.87 273.25,305.14 274.57,304.8 275.88,305.14 277.2,305 278.51,304.23 279.82,303.76 281.13,303.29 282.44,302.93 283.76,302.4 285.07,302.18 286.38,301.29 287.69,300.91 289,300.2" fill="none" stroke="#ff5b14" stroke-width="1.25" stroke-linejoin="round"/>
<polyline points="30,326.8 34,330 42,333 46,333.5" fill="none" stroke="#ff5b14" stroke-width="1.25" stroke-linejoin="round" stroke-dasharray="6.6 6.4"/>
<polyline points="57,332.3 63.4,330.8 69.4,327.8 87.1,322.7 100.9,320.3 114.7,318.8 146.2,317.6 288,317.8" fill="none" stroke="#ff5b14" stroke-width="1.25" stroke-linejoin="round" stroke-dasharray="6.6 6.4"/>
<polyline points="30,330.8 31.32,330.38 32.63,330.39 33.95,330.78 35.27,330.7 36.58,330.55 37.9,330.2 39.21,329.99 40.53,329.94 41.84,329.81 43.15,329.59 44.47,329.91 45.78,329.44 47.09,329.24 48.41,328.37 49.72,328.42 51.03,328.72 52.35,328.6 53.66,327.64 54.97,327.83 56.29,328.16 57.6,327.8 58.91,327.47 60.22,327.43 61.53,327.25 62.84,326.12 64.16,326.8 65.47,327 66.78,326.25 68.09,325.69 69.4,325.56 70.71,325.22 72.02,325.1 73.33,325.28 74.64,324.65 75.96,324.73 77.27,324.22 78.58,324.15 79.89,323.76 81.2,323.9 82.52,323.85 83.83,323.56 85.15,323.77 86.47,324.02 87.78,323.64 89.1,323.64 90.42,323.56 91.73,323.34 93.05,323.85 94.37,323.74 95.68,324.04 97,323.3 98.33,323.41 99.66,323.04 100.99,323.96 102.32,323.11 103.65,323.5 104.98,323.44 106.31,323.83 107.64,323.41 108.96,323.43 110.29,323.34 111.62,323.74 112.95,324.01 114.28,323.56 115.61,323.65 116.94,323.95 118.27,323.65 119.6,323.9 120.96,323.4 122.32,323.65 123.69,322.92 125.05,322.75 126.41,322.53 127.78,322.41 129.14,322.19 130.5,321.3 131.81,320.73 133.12,320.91 134.43,320.68 135.73,320.64 137.04,320.48 138.35,320.07 139.66,319.47 140.97,319.18 142.27,319.58 143.58,319.51 144.89,318.88 146.2,318.8 147.67,318.31 149.13,317.8 150.6,318.03 152.07,318.26 153.53,317.78 155,317.4 156.31,317.45 157.63,317.77 158.94,317.25 160.25,316.98 161.57,316.72 162.88,317.09 164.19,316.68 165.51,315.88 166.82,316.28 168.13,315.98 169.45,316.08 170.76,315.98 172.07,315.57 173.39,315.66 174.7,315.4 176.01,315.25 177.33,315.25 178.64,315.6 179.95,315.06 181.27,314.93 182.58,315.52 183.89,315.48 185.21,315.71 186.52,315.68 187.83,315.98 189.15,315.8 190.46,315.75 191.77,316 193.09,316.18 194.4,316 195.71,315.86 197.03,316.2 198.34,315.43 199.65,315.77 200.97,315.35 202.28,315.26 203.59,315.52 204.91,315.35 206.22,314.79 207.53,314.85 208.85,314.5 210.16,314.71 211.47,314.9 212.79,314.26 214.1,314.4 215.48,314.32 216.86,313.93 218.24,313.68 219.62,313.08 221,313.2 222.38,313.28 223.76,312.83 225.14,312.22 226.52,312.21 227.9,312.1 229.22,312.07 230.53,311.79 231.85,312.01 233.17,312.15 234.48,312.04 235.8,312.08 237.12,312.72 238.43,312.25 239.75,312.17 241.07,312.74 242.38,312.27 243.7,312.4 245.08,312.33 246.46,313.31 247.84,313.23 249.22,313.26 250.6,312.97 251.98,313.56 253.36,314.1 254.74,314.19 256.12,314.31 257.5,314.4 258.81,314.46 260.12,314.53 261.43,314.52 262.74,315.2 264.06,315.35 265.37,315.2 266.68,315.79 267.99,315.53 269.3,316 270.61,315.61 271.92,315.41 273.23,315.12 274.54,315.18 275.86,314.11 277.17,314.28 278.48,313.72 279.79,313.75 281.1,313.4 282.42,313.28 283.73,313.7 285.05,313.3 286.37,312.79 287.68,312.68 289,312.8" fill="none" stroke="#1fc6c6" stroke-width="1.25" stroke-linejoin="round"/>
<polyline points="55.6,323.3 67.4,320.3 79.2,317.4 97,314.4 118.7,312.8 138.4,312.1 163,311.6 289,311.7" fill="none" stroke="#1fc6c6" stroke-width="1.25" stroke-linejoin="round" stroke-dasharray="6.6 6.4"/>
<path d="M28.8 212.8V388H290.2V212.8M25.5 377.73H28.8M290.2 377.73H293.5M26.8 367.46H28.8M290.2 367.46H292.2M25.5 357.19H28.8M290.2 357.19H293.5M26.8 346.92H28.8M290.2 346.92H292.2M25.5 336.65H28.8M290.2 336.65H293.5M26.8 326.38H28.8M290.2 326.38H292.2M25.5 316.11H28.8M290.2 316.11H293.5M26.8 305.84H28.8M290.2 305.84H292.2M25.5 295.56H28.8M290.2 295.56H293.5M26.8 285.29H28.8M290.2 285.29H292.2M25.5 275.02H28.8M290.2 275.02H293.5M26.8 264.75H28.8M290.2 264.75H292.2M25.5 254.48H28.8M290.2 254.48H293.5M26.8 244.21H28.8M290.2 244.21H292.2M25.5 233.94H28.8M290.2 233.94H293.5M26.8 223.67H28.8M290.2 223.67H292.2M25.5 213.4H28.8M290.2 213.4H293.5M28.8 388V391.3M54.1 388V390M79.4 388V391.3M104.7 388V390M130 388V391.3M155.3 388V390M180.6 388V391.3M205.9 388V390M231.2 388V391.3M256.5 388V390M281.8 388V391.3" stroke="#000" stroke-width="1.5" fill="none"/>
<path d="M311 212.8V388.7M311 388H314M311 368.6H313M311 349.2H314M311 329.8H313M311 310.4H314M311 291H313M311 271.6H314M311 252.2H313M311 232.8H314M311 213.4H313" stroke="#1a5fe0" stroke-width="1.6" fill="none"/>
<g font-family="Liberation Sans" font-weight="bold" font-size="9.8" fill="#111" stroke="#111" stroke-width="0.15"><text transform="translate(22.2 381.28) scale(1 1.1)" text-anchor="end">26</text><text transform="translate(296 381.28) scale(1 1.1)">26</text><text transform="translate(22.2 360.74) scale(1 1.1)" text-anchor="end">28</text><text transform="translate(296 360.74) scale(1 1.1)">28</text><text transform="translate(22.2 340.2) scale(1 1.1)" text-anchor="end">30</text><text transform="translate(296 340.2) scale(1 1.1)">30</text><text transform="translate(22.2 319.66) scale(1 1.1)" text-anchor="end">32</text><text transform="translate(296 319.66) scale(1 1.1)">32</text><text transform="translate(22.2 299.11) scale(1 1.1)" text-anchor="end">34</text><text transform="translate(296 299.11) scale(1 1.1)">34</text><text transform="translate(22.2 278.57) scale(1 1.1)" text-anchor="end">36</text><text transform="translate(296 278.57) scale(1 1.1)">36</text><text transform="translate(22.2 258.03) scale(1 1.1)" text-anchor="end">38</text><text transform="translate(296 258.03) scale(1 1.1)">38</text><text transform="translate(22.2 237.49) scale(1 1.1)" text-anchor="end">40</text><text transform="translate(296 237.49) scale(1 1.1)">40</text><text transform="translate(22.2 216.95) scale(1 1.1)" text-anchor="end">42</text><text transform="translate(296 216.95) scale(1 1.1)">42</text><text transform="translate(28.8 402.85) scale(1 1.1)" text-anchor="middle">0</text><text transform="translate(79.4 402.85) scale(1 1.1)" text-anchor="middle">1000</text><text transform="translate(130 402.85) scale(1 1.1)" text-anchor="middle">2000</text><text transform="translate(180.6 402.85) scale(1 1.1)" text-anchor="middle">3000</text><text transform="translate(231.2 402.85) scale(1 1.1)" text-anchor="middle">4000</text><text transform="translate(281.8 402.85) scale(1 1.1)" text-anchor="middle">5000</text></g>
<g font-family="Liberation Sans" font-weight="bold" font-size="9.8" fill="#1a5fe0" stroke="#1a5fe0" stroke-width="0.15"><text transform="translate(317.2 391.55) scale(1 1.1)">0.0</text><text transform="translate(317.2 352.75) scale(1 1.1)">0.2</text><text transform="translate(317.2 313.95) scale(1 1.1)">0.4</text><text transform="translate(317.2 275.15) scale(1 1.1)">0.6</text><text transform="translate(317.2 236.35) scale(1 1.1)">0.8</text></g>
<text font-family="Liberation Sans" font-weight="bold" font-size="9.8" fill="#111" x="159.5" y="415" text-anchor="middle">Time (min)</text>
<text font-family="Liberation Sans" font-weight="bold" font-size="9.8" fill="#111" text-anchor="middle" transform="translate(7.8 300.7) rotate(-90)">VWC(%)</text>
<text font-family="Liberation Sans" font-weight="bold" font-size="9.8" fill="#1a5fe0" text-anchor="middle" transform="translate(337.2 300.7) rotate(-90)">Rainfall (mm)</text>
<text font-family="Liberation Sans" font-weight="bold" font-size="8.9" fill="#111" stroke="#111" stroke-width="0.12" x="36.4" y="221.1">(c) Depth 21.0 cm</text>
<g font-family="Liberation Sans" font-weight="bold" font-size="8.0" fill="#111" stroke="#111" stroke-width="0.12"><path d="M178.6 219.3H196.6" stroke="#2f74e0" stroke-width="1.2"/><text x="199.7" y="221.8">Rainfall</text><path d="M178.6 230H196.6" stroke="#1fc6c6" stroke-width="1.8"/><path d="M235.7 230H242.7M249.9 230H254.4" stroke="#1fc6c6" stroke-width="1.8"/><text x="199.7" y="232.5">Exp.-S6</text><text x="256.9" y="232.5">Sim.-S6</text><path d="M178.6 239.9H196.6" stroke="#ff5b14" stroke-width="1.8"/><path d="M235.7 239.9H242.7M249.9 239.9H254.4" stroke="#ff5b14" stroke-width="1.8"/><text x="199.7" y="242.4">Exp.-S9</text><text x="256.9" y="242.4">Sim.-S9</text></g>
<path d="M374.5 389.4V369.01M381.5 389.4V369.01M395.5 370.01V291.46M402.5 389.4V349.62M405.5 389.4V349.62M408.5 389.4V330.23M413.5 389.4V349.62M427.5 389.4V349.62M437.5 389.4V369.01M443.5 389.4V369.01M447.5 389.4V369.01M466.5 389.4V330.23M467.5 389.4V310.84M470.5 389.4V330.23M478.5 370.01V272.07M488.5 389.4V330.23M492.5 389.4V349.62M495.5 389.4V349.62M503.5 389.4V369.01M519.5 389.4V349.62M522.5 389.4V349.62" stroke="#86aef0" stroke-width="1" fill="none" shape-rendering="crispEdges"/>
<path d="M375.5 370.98V369.01M376.5 370.98V369.01M377.5 389.4V369.01M379.5 389.4V369.01M380.5 370.98V369.01M382.5 389.4V310.84M383.5 389.4V349.62M384.5 389.4V349.62M385.5 370.01V330.23M386.5 350.62V330.23M387.5 370.01V291.46M388.5 370.01V272.07M389.5 350.62V330.23M390.5 332.2V330.23M391.5 351.59V349.62M392.5 370.01V272.07M393.5 370.01V330.23M394.5 351.59V349.62M396.5 370.98V369.01M397.5 389.4V349.62M398.5 389.4V310.84M399.5 389.4V330.23M400.5 370.01V349.62M401.5 370.01V291.46M403.5 389.4V349.62M404.5 312.81V310.84M406.5 389.4V349.62M407.5 370.98V369.01M409.5 389.4V330.23M410.5 370.01V330.23M411.5 389.4V349.62M412.5 389.4V349.62M415.5 389.4V330.23M416.5 389.4V330.23M418.5 389.4V369.01M419.5 389.4V369.01M421.5 389.4V330.23M422.5 389.4V330.23M423.5 351.59V349.62M424.5 389.4V330.23M425.5 351.59V349.62M426.5 351.59V349.62M428.5 389.4V349.62M429.5 389.4V369.01M430.5 389.4V369.01M431.5 389.4V369.01M432.5 389.4V369.01M433.5 389.4V369.01M434.5 389.4V369.01M436.5 389.4V369.01M439.5 370.98V369.01M440.5 389.4V369.01M441.5 370.98V369.01M442.5 370.98V369.01M444.5 389.4V369.01M445.5 370.98V369.01M448.5 389.4V369.01M449.5 389.4V349.62M450.5 389.4V369.01M451.5 389.4V369.01M452.5 389.4V369.01M453.5 370.98V369.01M454.5 370.98V369.01M465.5 389.4V233.29M468.5 389.4V349.62M469.5 370.01V349.62M471.5 389.4V310.84M472.5 350.62V330.23M473.5 350.62V310.84M474.5 370.01V272.07M475.5 370.01V252.68M476.5 292.46V272.07M477.5 311.84V272.07M479.5 350.62V330.23M480.5 370.01V349.62M481.5 351.59V349.62M482.5 332.2V330.23M483.5 350.62V330.23M484.5 389.4V272.07M485.5 370.01V252.68M486.5 370.01V310.84M487.5 370.01V330.23M489.5 389.4V330.23M490.5 389.4V310.84M491.5 389.4V330.23M493.5 351.59V349.62M494.5 389.4V330.23M496.5 389.4V349.62M497.5 389.4V349.62M498.5 389.4V369.01M499.5 370.98V369.01M500.5 389.4V330.23M501.5 389.4V349.62M502.5 370.98V369.01M504.5 389.4V349.62M505.5 370.98V369.01M506.5 389.4V369.01M507.5 389.4V349.62M508.5 389.4V369.01M509.5 389.4V369.01M510.5 389.4V369.01M511.5 389.4V349.62M512.5 389.4V369.01M513.5 389.4V369.01M514.5 389.4V369.01M515.5 389.4V349.62M516.5 389.4V349.62M517.5 389.4V310.84M518.5 389.4V349.62M520.5 389.4V349.62M521.5 389.4V330.23M523.5 389.4V349.62M524.5 370.01V349.62M525.5 389.4V330.23M526.5 389.4V349.62M527.5 389.4V349.62M528.5 389.4V349.62M529.5 389.4V349.62M530.5 351.59V349.62M531.5 389.4V369.01M532.5 389.4V369.01M533.5 389.4V369.01M534.5 389.4V369.01M535.5 370.98V369.01M388.5 370.01V272.07M391.5 370.01V272.07M386.5 370.01V291.46M394.5 370.01V291.46M400.5 389.4V291.46M381.5 389.4V310.84M397.5 389.4V310.84M403.5 389.4V310.84M464.5 389.4V233.29M474.5 370.01V252.68M485.5 370.01V252.68M483.5 389.4V272.07M473.5 370.01V272.07M476.5 370.01V272.07" stroke="#1a63dc" stroke-width="1" fill="none" shape-rendering="crispEdges"/>
<polyline points="374.2,273.5 375.67,273.43 377.13,272.82 378.6,272.4 380.07,271.24 381.53,269.77 383,268.7 384.36,268.55 385.73,268.68 387.09,268.76 388.45,268.92 389.81,268.83 391.17,269.08 392.54,268.5 393.9,268.7 395.25,269.08 396.59,268.56 397.94,268.49 399.28,269.27 400.63,268.49 401.98,269.07 403.32,269.33 404.67,268.91 406.02,269.28 407.36,268.98 408.71,268.67 410.05,269.07 411.4,269.2 412.77,269.4 414.15,269.93 415.52,270.55 416.9,270.53 418.27,270.68 419.65,270.9 421.02,270.96 422.4,271.3 423.79,271.12 425.18,271.77 426.57,271.4 427.96,271.7 429.35,271.27 430.75,271.25 432.14,271.05 433.53,271.47 434.92,270.75 436.31,270.67 437.7,270.9 439.07,270.77 440.45,270.99 441.82,271.85 443.2,271.61 444.57,271.73 445.95,272.15 447.32,271.64 448.7,272.4 450.06,272.23 451.43,272.27 452.79,272.94 454.15,273.4 455.51,273.43 456.88,273.41 458.24,273.72 459.6,274 461.07,274.37 462.53,274.29 464,275.3 466.2,269.6 467.6,269.38 469,269.7 470.4,269.54 471.8,269 473.2,269.42 474.6,269.17 476,268.99 477.4,268.96 478.8,268.76 480.2,268.75 481.6,268.7 482.98,268.09 484.35,269.12 485.73,269.44 487.11,269.52 488.48,269.54 489.86,269.2 491.24,269.59 492.61,269.84 493.99,270 495.36,270.42 496.74,270.79 498.12,269.98 499.49,270.69 500.87,271.3 502.25,271.02 503.62,271.11 505,271.2 506.32,271.77 507.63,271.99 508.95,272.04 510.27,272.2 511.58,272.15 512.9,272.7 514.22,271.68 515.53,272.25 516.85,271.51 518.17,271.37 519.48,271.35 520.8,270.8 522.2,270.92 523.6,270.99 525,271.43 526.4,271.23 527.8,271.29 529.2,272.03 530.6,271.2 531.98,271.36 533.36,272.19 534.74,272.75 536.12,273.51 537.5,274.12 538.88,273.91 540.26,274.25 541.64,274.48 543.02,275.35 544.4,275.7 545.71,276.1 547.02,276.6 548.33,276.98 549.64,277.5 550.96,277.51 552.27,278.24 553.58,277.93 554.89,278.39 556.2,279 557.52,279.24 558.84,278.88 560.17,278.04 561.49,278.82 562.81,278.29 564.13,278.81 565.46,278.43 566.78,278.04 568.1,277.7 570.05,274.27 572,271.2 573.33,272.34 574.67,273.61 576,274.7 577.31,274.8 578.62,275.21 579.93,274.96 581.24,275.55 582.56,275.86 583.87,275.4 585.18,276.18 586.49,276.39 587.8,276.7 589.11,276.79 590.42,276.78 591.73,277.39 593.04,277.84 594.36,277.83 595.67,278.04 596.98,278.08 598.29,278.35 599.6,278.32 600.91,279.11 602.22,278.34 603.53,279.71 604.84,279.66 606.16,279.38 607.47,280.02 608.78,280.34 610.09,280.56 611.4,280.6 612.76,280.44 614.11,280.21 615.47,279.83 616.83,279.55 618.18,280.23 619.54,279.97 620.89,280.09 622.25,280.2 623.61,280.16 624.96,279.93 626.32,279.26 627.67,279.84 629.03,280.31 630.39,279.79 631.74,279.85 633.1,279.6" fill="none" stroke="#f02a2a" stroke-width="1.25" stroke-linejoin="round"/>
<polyline points="374.2,277.9 380.8,280.6" fill="none" stroke="#f02a2a" stroke-width="1.25" stroke-linejoin="round" stroke-dasharray="6.6 6.4"/>
<polyline points="389.5,277.9 398.3,273.5 404.9,270.9 420,269.6 615.4,268.4 627.2,277.3" fill="none" stroke="#f02a2a" stroke-width="1.25" stroke-linejoin="round" stroke-dasharray="6.6 6.4"/>
<polyline points="374.2,304.2 375.56,304.64 376.93,303.96 378.29,303.73 379.65,304.1 381.01,303.75 382.38,303.61 383.74,303.91 385.1,303.8 386.75,299.21 388.4,294.4 389.77,294.29 391.15,294.07 392.52,293.86 393.9,293.36 395.27,293.11 396.65,293.69 398.02,292.65 399.4,292.26 400.77,292.46 402.15,291.98 403.52,291.11 404.9,291.5 406.27,291.51 407.64,291.51 409.01,291.22 410.38,291.46 411.74,290.97 413.11,290.82 414.48,291.28 415.85,291.46 417.22,291.09 418.59,291.19 419.96,290.73 421.32,291.16 422.69,290.95 424.06,290.8 425.43,290.85 426.8,290.6 428.17,290.6 429.54,290.82 430.91,291.02 432.27,291.23 433.64,291.09 435.01,291.7 436.38,291.3 437.75,292.37 439.12,292.07 440.49,292.05 441.86,292.4 443.23,292.29 444.59,292.51 445.96,293.27 447.33,292.45 448.7,293.3 450.09,293.11 451.48,293.66 452.87,294.38 454.26,293.94 455.65,293.89 457.05,294.55 458.44,294.37 459.83,294.92 461.22,295.56 462.61,295.45 464,295.5 465.47,294.77 466.93,294.13 468.4,293.57 469.87,292.84 471.33,292.41 472.8,291.5 474.11,291.22 475.43,291.39 476.74,290.92 478.05,290.92 479.37,290.86 480.68,290.58 481.99,290.97 483.31,290.41 484.62,290.77 485.93,290.29 487.25,290.24 488.56,289.83 489.87,289.53 491.19,290.17 492.5,290 493.89,289.85 495.28,290.27 496.67,289.61 498.06,289.39 499.44,289.33 500.83,289.47 502.22,288.95 503.61,288.91 505,288.9 506.35,289.01 507.69,288.78 509.04,288.49 510.38,288.82 511.73,288.97 513.07,288.66 514.42,288.48 515.76,288.67 517.11,288.42 518.45,288.76 519.8,288.61 521.15,288.56 522.49,288.25 523.84,288.15 525.18,288.84 526.53,288.64 527.87,288.35 529.22,288.26 530.56,288.04 531.91,287.92 533.25,288.18 534.6,288.1 535.94,288.41 537.28,287.91 538.62,287.71 539.96,287.75 541.3,287.87 542.65,287.91 543.99,287.87 545.33,287.17 546.67,287.04 548.01,287.17 549.35,287.5 550.69,287.25 552.03,287.44 553.37,287.23 554.71,287.26 556.05,286.98 557.4,286.89 558.74,286.24 560.08,286.38 561.42,286.68 562.76,286.27 564.1,286.5 565.58,287.35 567.05,287.59 568.52,288.4 570,288.9 571.37,288.74 572.74,289.27 574.11,289.27 575.48,289.73 576.85,289.13 578.22,289.01 579.58,290.03 580.95,289.65 582.32,290.58 583.69,290.01 585.06,289.96 586.43,290.45 587.8,290.5 589.11,291.34 590.43,291.04 591.74,291.57 593.05,291.91 594.37,292.3 595.68,292.88 596.99,292.73 598.31,292.73 599.62,293.48 600.93,293.7 602.25,294.03 603.56,294.63 604.87,294.74 606.19,295.22 607.5,295.4 608.81,295.52 610.12,295.5 611.43,294.44 612.74,295.04 614.06,294.5 615.37,294.61 616.68,294.94 617.99,295.16 619.3,294.8 620.68,294.6 622.06,294.8 623.44,294.54 624.82,294.32 626.2,294.3 627.58,293.53 628.96,293.62 630.34,293.64 631.72,293.26 633.1,293.4" fill="none" stroke="#3c3c3c" stroke-width="1.25" stroke-linejoin="round"/>
<polyline points="374.2,300.9 380.8,299.8" fill="none" stroke="#3c3c3c" stroke-width="1.25" stroke-linejoin="round" stroke-dasharray="6.6 6.4"/>
<polyline points="384,292.2 393.9,289.3 542.4,288.9 544.4,290.5 562.2,298.4 570,299.3 571,293.4 576,292.4 603.5,295.4 615.4,297.4 633.1,313.1" fill="none" stroke="#3c3c3c" stroke-width="1.25" stroke-linejoin="round" stroke-dasharray="6.6 6.4"/>
<polyline points="374.2,378.7 375.67,378.56 377.13,378.09 378.6,377.81 380.07,377.07 381.53,377.66 383,377 384.31,377.23 385.62,376.61 386.94,377.09 388.25,377.31 389.56,377.99 390.87,377.77 392.18,377.85 393.5,377.87 394.81,377.42 396.12,378.16 397.43,377.78 398.74,377.79 400.06,377.51 401.37,377.93 402.68,378.61 403.99,378.23 405.3,378.34 406.62,378.54 407.93,378.73 409.24,378.41 410.55,378.85 411.86,378.49 413.18,378.54 414.49,378.44 415.8,378.7 417.18,378.18 418.55,377.78 419.93,377.4 421.3,377.12 422.68,376.68 424.05,375.85 425.43,376.17 426.8,375.4 428.13,375.43 429.46,375.29 430.79,375.37 432.11,375.56 433.44,376.06 434.77,375.03 436.1,375.05 437.43,375.63 438.76,375.58 440.09,374.93 441.41,375.47 442.74,374.63 444.07,375.2 445.4,375.31 446.73,375.34 448.06,374.91 449.39,374.59 450.71,375.66 452.04,374.52 453.37,375.22 454.7,374.89 456.03,374.94 457.36,375.07 458.69,374.87 460.01,375 461.34,375.38 462.67,374.58 464,374.8 466.2,372.1 467.6,371.99 469,371.98 470.4,371.2 471.8,371.3 473.2,371.6 474.6,371.57 476,370.75 477.4,370.75 478.8,370.27 480.2,370.32 481.6,370 482.98,369.83 484.35,369.58 485.73,369.06 487.11,368.24 488.48,367.89 489.86,367.56 491.24,366.85 492.61,367.02 493.99,366.28 495.36,365.72 496.74,365.24 498.12,365.16 499.49,365.12 500.87,364.4 502.25,363.73 503.62,363.21 505,363 506.31,362.91 507.62,362.3 508.93,362.69 510.24,362.19 511.56,362.14 512.87,361.74 514.18,361.78 515.49,361.88 516.8,361.4 518.18,361.49 519.56,360.86 520.94,361.03 522.32,360.4 523.7,360.42 525.08,360.36 526.46,359.89 527.84,359.89 529.22,359.73 530.6,359.5 531.92,359.35 533.23,359.32 534.55,359.35 535.87,359.47 537.18,358.61 538.5,358.31 539.82,359.14 541.13,359.02 542.45,358.82 543.77,358.43 545.08,358.68 546.4,358.72 547.72,358.31 549.03,358.3 550.35,358.46 551.67,357.94 552.98,357.6 554.3,357.9 555.68,357.56 557.06,357.35 558.44,357.04 559.82,357.2 561.2,356.99 562.58,356.88 563.96,355.62 565.34,355.58 566.72,355.91 568.1,355.5 570.05,354.17 572,353.1 573.31,353.2 574.62,352.92 575.93,353.88 577.24,353.68 578.56,352.93 579.87,353.87 581.18,353.48 582.49,353.94 583.8,353.9 585.15,354.47 586.49,354.26 587.84,354.22 589.18,354.38 590.53,354.04 591.87,354.39 593.22,354.45 594.56,354.24 595.91,354.82 597.25,354.61 598.6,354.57 599.95,355.15 601.29,354.96 602.64,354.62 603.98,355.29 605.33,355.41 606.67,354.53 608.02,355.46 609.36,355.09 610.71,355.21 612.05,355.59 613.4,355.5 614.71,355.24 616.03,355.47 617.34,355.76 618.65,355.08 619.97,355.73 621.28,354.81 622.59,354.7 623.91,355.26 625.22,354.91 626.53,355.03 627.85,354.3 629.16,354.61 630.47,354.14 631.79,354.34 633.1,354.5" fill="none" stroke="#1f5fdc" stroke-width="1.25" stroke-linejoin="round"/>
<polyline points="378.6,378.7 391.7,370 404.9,365.6 426.8,359 459.6,354.6 480,353.5 505,352.6 633.1,352.6" fill="none" stroke="#1f5fdc" stroke-width="1.25" stroke-linejoin="round" stroke-dasharray="6.6 6.4"/>
<path d="M373.3 213.8V388.9H634.1V213.8M370 378.64H373.3M634.1 378.64H637.4M371.3 368.37H373.3M634.1 368.37H636.1M370 358.11H373.3M634.1 358.11H637.4M371.3 347.84H373.3M634.1 347.84H636.1M370 337.58H373.3M634.1 337.58H637.4M371.3 327.31H373.3M634.1 327.31H636.1M370 317.05H373.3M634.1 317.05H637.4M371.3 306.78H373.3M634.1 306.78H636.1M370 296.52H373.3M634.1 296.52H637.4M371.3 286.25H373.3M634.1 286.25H636.1M370 275.99H373.3M634.1 275.99H637.4M371.3 265.72H373.3M634.1 265.72H636.1M370 255.46H373.3M634.1 255.46H637.4M371.3 245.19H373.3M634.1 245.19H636.1M370 234.93H373.3M634.1 234.93H637.4M371.3 224.66H373.3M634.1 224.66H636.1M370 214.4H373.3M634.1 214.4H637.4M373.3 388.9V392.2M398.51 388.9V390.9M423.72 388.9V392.2M448.93 388.9V390.9M474.14 388.9V392.2M499.35 388.9V390.9M524.56 388.9V392.2M549.77 388.9V390.9M574.98 388.9V392.2M600.19 388.9V390.9M625.4 388.9V392.2" stroke="#000" stroke-width="1.5" fill="none"/>
<path d="M654.5 213.8V389.6M654.5 388.9H657.5M654.5 369.51H656.5M654.5 350.12H657.5M654.5 330.73H656.5M654.5 311.34H657.5M654.5 291.96H656.5M654.5 272.57H657.5M654.5 253.18H656.5M654.5 233.79H657.5M654.5 214.4H656.5" stroke="#1a5fe0" stroke-width="1.6" fill="none"/>
<g font-family="Liberation Sans" font-weight="bold" font-size="9.8" fill="#111" stroke="#111" stroke-width="0.15"><text transform="translate(366.7 382.19) scale(1 1.1)" text-anchor="end">26</text><text transform="translate(639.9 382.19) scale(1 1.1)">26</text><text transform="translate(366.7 361.66) scale(1 1.1)" text-anchor="end">28</text><text transform="translate(639.9 361.66) scale(1 1.1)">28</text><text transform="translate(366.7 341.13) scale(1 1.1)" text-anchor="end">30</text><text transform="translate(639.9 341.13) scale(1 1.1)">30</text><text transform="translate(366.7 320.6) scale(1 1.1)" text-anchor="end">32</text><text transform="translate(639.9 320.6) scale(1 1.1)">32</text><text transform="translate(366.7 300.07) scale(1 1.1)" text-anchor="end">34</text><text transform="translate(639.9 300.07) scale(1 1.1)">34</text><text transform="translate(366.7 279.54) scale(1 1.1)" text-anchor="end">36</text><text transform="translate(639.9 279.54) scale(1 1.1)">36</text><text transform="translate(366.7 259.01) scale(1 1.1)" text-anchor="end">38</text><text transform="translate(639.9 259.01) scale(1 1.1)">38</text><text transform="translate(366.7 238.48) scale(1 1.1)" text-anchor="end">40</text><text transform="translate(639.9 238.48) scale(1 1.1)">40</text><text transform="translate(366.7 217.95) scale(1 1.1)" text-anchor="end">42</text><text transform="translate(639.9 217.95) scale(1 1.1)">42</text><text transform="translate(373.3 403.75) scale(1 1.1)" text-anchor="middle">0</text><text transform="translate(423.72 403.75) scale(1 1.1)" text-anchor="middle">1000</text><text transform="translate(474.14 403.75) scale(1 1.1)" text-anchor="middle">2000</text><text transform="translate(524.56 403.75) scale(1 1.1)" text-anchor="middle">3000</text><text transform="translate(574.98 403.75) scale(1 1.1)" text-anchor="middle">4000</text><text transform="translate(625.4 403.75) scale(1 1.1)" text-anchor="middle">5000</text></g>
<g font-family="Liberation Sans" font-weight="bold" font-size="9.8" fill="#1a5fe0" stroke="#1a5fe0" stroke-width="0.15"><text transform="translate(660.7 392.45) scale(1 1.1)">0.0</text><text transform="translate(660.7 353.67) scale(1 1.1)">0.2</text><text transform="translate(660.7 314.89) scale(1 1.1)">0.4</text><text transform="translate(660.7 276.12) scale(1 1.1)">0.6</text><text transform="translate(660.7 237.34) scale(1 1.1)">0.8</text></g>
<text font-family="Liberation Sans" font-weight="bold" font-size="9.8" fill="#111" x="503.7" y="415.9" text-anchor="middle">Time (min)</text>
<text font-family="Liberation Sans" font-weight="bold" font-size="9.8" fill="#111" text-anchor="middle" transform="translate(352.1 301.65) rotate(-90)">VWC(%)</text>
<text font-family="Liberation Sans" font-weight="bold" font-size="9.8" fill="#1a5fe0" text-anchor="middle" transform="translate(682 301.65) rotate(-90)">Rainfall (mm)</text>
<text font-family="Liberation Sans" font-weight="bold" font-size="8.9" fill="#111" stroke="#111" stroke-width="0.12" x="380.6" y="222.3">(d)</text>
<g font-family="Liberation Sans" font-weight="bold" font-size="8.0" fill="#111" stroke="#111" stroke-width="0.12"><path d="M523.5 219.4H540.9" stroke="#4f8fe8" stroke-width="1.0"/><text x="543.5" y="221.9">Rainfall</text><path d="M522.5 231H540.9" stroke="#3c3c3c" stroke-width="1.8"/><path d="M580.7 231H585.8M594 231H598" stroke="#3c3c3c" stroke-width="1.8"/><text x="543.2" y="233.5">Exp.-S1</text><text x="600" y="233.5">Sim.-S1</text><path d="M522.5 241.3H540.9" stroke="#f02a2a" stroke-width="1.8"/><path d="M580.7 241.3H585.8M594 241.3H598" stroke="#f02a2a" stroke-width="1.8"/><text x="543.2" y="243.8">Exp.-S2</text><text x="600" y="243.8">Sim.-S2</text><path d="M522.5 251.1H540.9" stroke="#1f5fdc" stroke-width="1.8"/><path d="M580.7 251.1H585.8M594 251.1H598" stroke="#1f5fdc" stroke-width="1.8"/><text x="543.2" y="253.6">Exp.-S3</text><text x="600" y="253.6">Sim.-S3</text></g>
<path d="M32.5 598.9V578.41M57.5 598.9V539.43M70.5 598.9V558.92M110.5 598.9V578.41M123.5 598.9V539.43M124.5 598.9V519.94M133.5 579.41V480.97M140.5 598.9V539.43M146.5 598.9V539.43" stroke="#86aef0" stroke-width="1" fill="none" shape-rendering="crispEdges"/>
<path d="M31.5 598.9V578.41M33.5 580.39V578.41M34.5 598.9V578.41M36.5 598.9V578.41M37.5 580.39V578.41M38.5 598.9V578.41M39.5 598.9V519.94M40.5 598.9V558.92M41.5 598.9V558.92M42.5 579.41V539.43M43.5 559.92V539.43M44.5 579.41V500.46M45.5 579.41V480.97M46.5 559.92V539.43M47.5 541.41V539.43M48.5 560.9V558.92M49.5 579.41V480.97M50.5 579.41V539.43M51.5 560.9V558.92M52.5 579.41V500.46M53.5 580.39V578.41M54.5 598.9V558.92M55.5 598.9V519.94M56.5 598.9V539.43M58.5 579.41V500.46M59.5 598.9V558.92M60.5 598.9V558.92M61.5 521.92V519.94M62.5 598.9V558.92M63.5 598.9V558.92M64.5 580.39V578.41M65.5 598.9V539.43M66.5 598.9V539.43M67.5 579.41V539.43M68.5 598.9V558.92M69.5 598.9V558.92M72.5 598.9V539.43M73.5 598.9V539.43M75.5 598.9V578.41M76.5 598.9V578.41M78.5 598.9V539.43M79.5 598.9V539.43M80.5 560.9V558.92M81.5 598.9V539.43M82.5 560.9V558.92M83.5 560.9V558.92M84.5 598.9V558.92M85.5 598.9V558.92M86.5 598.9V578.41M87.5 598.9V578.41M88.5 598.9V578.41M89.5 598.9V578.41M90.5 598.9V578.41M91.5 598.9V578.41M93.5 598.9V578.41M94.5 598.9V578.41M96.5 580.39V578.41M97.5 598.9V578.41M98.5 580.39V578.41M99.5 580.39V578.41M100.5 598.9V578.41M101.5 598.9V578.41M102.5 580.39V578.41M104.5 598.9V578.41M105.5 598.9V578.41M106.5 598.9V558.92M107.5 598.9V578.41M108.5 598.9V578.41M109.5 598.9V578.41M111.5 580.39V578.41M122.5 598.9V441.99M125.5 598.9V558.92M126.5 579.41V558.92M127.5 598.9V539.43M128.5 598.9V519.94M129.5 559.92V539.43M130.5 559.92V519.94M131.5 579.41V480.97M132.5 579.41V461.48M134.5 520.94V480.97M135.5 579.41V480.97M136.5 559.92V539.43M137.5 579.41V558.92M138.5 560.9V558.92M139.5 541.41V539.43M141.5 598.9V480.97M142.5 579.41V519.94M143.5 579.41V461.48M144.5 579.41V519.94M145.5 579.41V539.43M147.5 598.9V539.43M148.5 598.9V519.94M149.5 598.9V539.43M150.5 598.9V558.92M151.5 560.9V558.92M152.5 598.9V539.43M153.5 598.9V558.92M154.5 598.9V558.92M155.5 598.9V558.92M156.5 598.9V578.41M157.5 580.39V578.41M158.5 598.9V539.43M159.5 598.9V558.92M160.5 580.39V578.41M161.5 598.9V578.41M162.5 598.9V558.92M163.5 580.39V578.41M164.5 598.9V578.41M165.5 598.9V558.92M166.5 598.9V578.41M167.5 598.9V578.41M168.5 598.9V578.41M169.5 598.9V558.92M170.5 598.9V578.41M171.5 598.9V578.41M172.5 598.9V578.41M173.5 598.9V558.92M174.5 598.9V558.92M175.5 598.9V519.94M176.5 598.9V558.92M177.5 598.9V558.92M178.5 598.9V558.92M179.5 598.9V539.43M180.5 598.9V558.92M181.5 598.9V558.92M182.5 579.41V558.92M183.5 598.9V539.43M184.5 598.9V558.92M185.5 598.9V558.92M186.5 598.9V558.92M187.5 598.9V558.92M188.5 560.9V558.92M189.5 598.9V578.41M190.5 598.9V578.41M191.5 598.9V578.41M192.5 598.9V578.41M193.5 580.39V578.41M44.5 579.41V480.97M48.5 579.41V480.97M43.5 579.41V500.46M51.5 579.41V500.46M57.5 598.9V500.46M38.5 598.9V519.94M54.5 598.9V519.94M60.5 598.9V519.94M121.5 598.9V441.99M132.5 579.41V461.48M143.5 579.41V461.48M140.5 598.9V480.97M131.5 579.41V480.97M134.5 579.41V480.97" stroke="#1a63dc" stroke-width="1" fill="none" shape-rendering="crispEdges"/>
<polyline points="30,509 31.32,509.49 32.63,508.59 33.95,508.71 35.27,508.43 36.58,507.93 37.9,508 39.28,507.94 40.66,507.77 42.04,507.9 43.42,507.83 44.8,507.4 46.7,493.7 48.37,492.86 50.03,491.29 51.7,490.7 53.01,490.13 54.32,490.53 55.62,490.98 56.93,490.75 58.24,489.87 59.55,490.24 60.86,490.46 62.17,490.18 63.48,490.4 64.78,490.49 66.09,490.21 67.4,490.1 68.71,490.21 70.03,490.33 71.34,490.26 72.65,490.28 73.97,489.86 75.28,490.01 76.59,489.66 77.91,489.82 79.22,489.74 80.53,489.58 81.85,489.21 83.16,489.23 84.47,489.29 85.79,489.5 87.1,489.3 88.41,489.47 89.73,488.42 91.04,488.78 92.35,489.09 93.67,489.12 94.98,488.44 96.29,488.63 97.61,488.79 98.92,488.84 100.23,488.49 101.55,488.42 102.86,488.22 104.17,488.89 105.49,487.78 106.8,488.1 108.12,487.92 109.43,487.65 110.75,487.86 112.07,487.75 113.38,488.25 114.7,487.93 116.02,487.72 117.33,487.57 118.65,487.15 119.97,487.84 121.28,488.05 122.6,487.7 124.01,488.18 125.43,487.36 126.84,487.37 128.26,487.5 129.67,487.33 131.09,486.56 132.5,486.8 133.87,486.54 135.24,486.39 136.61,486.07 137.98,486.47 139.35,486.17 140.72,486 142.09,485.94 143.46,485.64 144.83,485.29 146.2,485.4 147.67,485.01 149.13,485.12 150.6,484.99 152.07,485.3 153.53,484.83 155,484.7 156.32,484.44 157.64,484.93 158.96,484.81 160.28,484.58 161.6,484.59 162.92,485.03 164.24,484.31 165.55,484.47 166.87,484.42 168.19,484.63 169.51,484.79 170.83,484.66 172.15,484.23 173.47,484.04 174.79,484.9 176.11,484.69 177.43,484.38 178.75,484.25 180.07,484.76 181.39,484.64 182.71,484.15 184.03,484.36 185.35,484.36 186.66,484.33 187.98,484.43 189.3,483.75 190.62,484.32 191.94,484.46 193.26,484.28 194.58,484.79 195.9,484.3 197.23,484.27 198.56,483.72 199.89,484.18 201.22,483.83 202.55,483.94 203.88,484.09 205.21,484.19 206.54,483.74 207.87,483.94 209.2,483.62 210.53,483.94 211.87,483.46 213.2,482.88 214.53,483.54 215.86,483.7 217.19,483.17 218.52,483.14 219.85,483.16 221.18,482.2 222.51,482.79 223.84,482.96 225.17,482.78 226.5,482.7 228.05,482.59 229.6,481.9 231.02,482.87 232.44,482.84 233.86,483.21 235.28,483.3 236.7,484.3 238.03,484.38 239.37,484.53 240.7,484.12 242.04,483.92 243.37,484.6 244.71,485.31 246.04,485.25 247.38,485.25 248.71,485.54 250.05,485.14 251.38,485.63 252.72,486.02 254.05,485.92 255.39,486.12 256.72,486.31 258.06,486.51 259.39,486.25 260.73,486 262.06,486.61 263.4,486.63 264.73,486.24 266.07,486.58 267.4,486.8 268.71,487.3 270.01,487.76 271.32,488.37 272.62,488.79 273.93,489.05 275.23,489.73 276.54,489.97 277.84,490.72 279.15,491.03 280.46,491.44 281.76,491.86 283.07,492.7 284.37,492.99 285.68,493.39 286.98,493.95 288.29,494.68 289.59,495.29 290.9,495.5" fill="none" stroke="#5b9bd5" stroke-width="1.25" stroke-linejoin="round"/>
<polyline points="37.9,491.7 39.8,488.7" fill="none" stroke="#5b9bd5" stroke-width="1.25" stroke-linejoin="round" stroke-dasharray="6.6 6.4"/>
<polyline points="47.7,483.8 277.6,483.7 285.8,485.3" fill="none" stroke="#5b9bd5" stroke-width="1.25" stroke-linejoin="round" stroke-dasharray="6.6 6.4"/>
<polyline points="30,503.5 31.95,504.39 33.9,505.1 35.4,505.28 36.9,505.9 38.53,504.1 40.17,503.3 41.8,501.5 43.27,500.27 44.75,499.76 46.23,498.59 47.7,497.6 49.11,497.04 50.53,496.46 51.94,496 53.36,495.71 54.77,495.42 56.19,494 57.6,494 59,493.33 60.4,493.6 61.8,493.47 63.2,492.67 64.6,492.83 66,491.91 67.4,492.1 68.71,491.6 70.02,492.2 71.33,492.21 72.64,492.14 73.96,493.06 75.27,492.55 76.58,492.17 77.89,492.55 79.2,492.7 80.58,492.81 81.96,493.17 83.34,493.91 84.72,493.67 86.1,493.49 87.48,493.82 88.86,494.14 90.24,494.11 91.62,493.9 93,494.6 94.38,495.05 95.76,495.24 97.14,495.02 98.52,494.84 99.9,494.55 101.28,495.45 102.66,495.2 104.04,495.74 105.42,495.59 106.8,495.6 108.18,495.98 109.56,495.94 110.94,496.08 112.32,496.62 113.7,496.57 115.08,496.96 116.46,496.82 117.84,497.29 119.22,497.45 120.6,497.6 121.92,497.67 123.24,497.28 124.57,497.42 125.89,497.1 127.21,496.88 128.53,496.66 129.86,495.91 131.18,496.03 132.5,496 133.82,496.06 135.15,495.41 136.47,496.05 137.79,496.1 139.12,496.67 140.44,495.48 141.76,495.88 143.09,496.34 144.41,495.95 145.74,495.84 147.06,496.1 148.38,496.25 149.71,496.02 151.03,495.75 152.35,495.94 153.68,495.95 155,496.2 156.33,495.84 157.67,496.08 159,496.22 160.34,496.68 161.67,496.4 163.01,496.63 164.34,495.98 165.68,496.72 167.01,496.33 168.35,496.66 169.68,496.16 171.02,495.98 172.35,495.85 173.69,496.41 175.02,496.75 176.36,496.36 177.69,496.49 179.03,496.5 180.36,496.64 181.7,496.79 183.03,496.38 184.37,496.63 185.7,496.6 187.01,497.23 188.31,497.04 189.62,496.76 190.93,497.09 192.24,496.47 193.54,496.78 194.85,497.19 196.16,497.16 197.46,497.04 198.77,497.55 200.08,497.28 201.39,497.45 202.69,497.36 204,497.6 205.47,497.03 206.94,497.08 208.41,495.85 209.89,495.99 211.36,495.9 212.83,495.4 214.3,494.9 215.76,494.96 217.21,495.2 218.67,494.79 220.13,495.04 221.59,495.07 223.04,494.84 224.5,494.9 225.87,494.57 227.23,493.69 228.6,493.5 229.95,494.06 231.3,494.75 232.65,495.12 234,495.77 235.35,495.68 236.7,496.6 238.02,496.83 239.34,496.95 240.66,496.69 241.98,497.45 243.3,497.08 244.62,497.68 245.95,497.59 247.27,497.33 248.59,497.98 249.91,498.07 251.23,498.35 252.55,498.87 253.87,498.83 255.19,499.43 256.51,499.07 257.83,499.47 259.15,499.36 260.47,499.66 261.8,499.89 263.12,500.05 264.44,500.25 265.76,500.49 267.08,500.58 268.4,500.7 269.72,502 271.05,503.01 272.37,503.95 273.69,504.7 275.02,506.27 276.34,507.03 277.66,507.42 278.99,508.83 280.31,510.34 281.64,510.83 282.96,512.4 284.28,513.12 285.61,513.53 286.93,514.79 288.25,515.91 289.58,517.08 290.9,518" fill="none" stroke="#7a3b32" stroke-width="1.25" stroke-linejoin="round"/>
<polyline points="33.9,503.5 39.8,495.6 43.8,493.7 50,492.5 269.4,492.5 275.6,496.6 289.9,515" fill="none" stroke="#7a3b32" stroke-width="1.25" stroke-linejoin="round" stroke-dasharray="6.6 6.4"/>
<polyline points="30,586.7 31.32,586.31 32.63,585.96 33.95,585.46 35.27,585.18 36.58,584.71 37.9,584.3 39.3,583.6 40.7,583.48 42.1,582.43 43.5,581.91 44.9,581.65 46.3,580.98 47.7,580.4 49.18,578.06 50.65,575.45 52.12,572.8 53.6,570.5 55.08,567.72 56.55,565.16 58.02,563.28 59.5,560.7 60.82,559.16 62.13,558 63.45,556.46 64.77,555.54 66.08,554.77 67.4,552.8 68.88,552.87 70.35,552.52 71.83,552.29 73.3,551.8 74.68,552.56 76.06,551.99 77.44,551.82 78.82,552.04 80.2,551.79 81.58,552.41 82.96,552.83 84.34,552.28 85.72,553.38 87.1,552.8 88.42,553.13 89.74,553.48 91.07,554.19 92.39,554.1 93.71,554.69 95.03,554.58 96.36,555.63 97.68,555.58 99,555.7 100.31,555.76 101.62,556.12 102.93,555.71 104.24,556.39 105.56,556.22 106.87,556.48 108.18,556.73 109.49,556.77 110.8,556.7 112.2,557.02 113.6,558.09 115,558.14 116.4,558.75 117.8,559.37 119.2,559.15 120.6,560.3 122.07,559.08 123.55,558.09 125.03,557.64 126.5,557.1 127.81,556.94 129.13,557.7 130.44,557.48 131.75,557.35 133.07,557.35 134.38,557.7 135.69,557.48 137.01,557.92 138.32,557.61 139.63,556.92 140.95,558.01 142.26,557.49 143.57,558 144.89,557.53 146.2,557.7 147.67,558.23 149.13,558.2 150.6,557.98 152.07,558.58 153.53,558.25 155,558.5 156.31,558.65 157.63,558.18 158.94,558.31 160.26,558.11 161.57,558.37 162.89,558.82 164.2,558.52 165.51,557.8 166.83,558.87 168.14,558.08 169.46,558.57 170.77,558.54 172.09,558.49 173.4,558.31 174.71,558.1 176.03,558.71 177.34,558.61 178.66,558.37 179.97,558.46 181.29,558.36 182.6,558.36 183.91,559.13 185.23,558.76 186.54,558.3 187.86,558.99 189.17,558.12 190.49,558.37 191.8,558.5 193.17,558.75 194.53,559.7 195.9,560 197.27,560.18 198.63,560.78 200,561 201.36,561.11 202.72,561.47 204.07,561.11 205.43,561.68 206.79,561.6 208.15,561.53 209.51,561.82 210.87,561.95 212.23,561.96 213.58,562.14 214.94,561.78 216.3,562 217.76,561.85 219.21,562.51 220.67,561.56 222.13,561.71 223.59,561.55 225.04,561.86 226.5,561.6 228.6,557.5 230.3,558.24 232,559.27 233.7,559.9 235.01,560 236.31,559.97 237.62,560.41 238.92,560.75 240.23,561.36 241.53,561.61 242.84,561.5 244.14,561.7 245.45,562.17 246.76,561.49 248.06,562.55 249.37,562.47 250.67,562.25 251.98,563.22 253.28,563.29 254.59,563.13 255.89,564 257.2,563.6 258.56,563.89 259.91,563.82 261.27,563.63 262.62,564.03 263.98,564.18 265.33,564.28 266.69,564.23 268.04,564.3 269.4,564.4 270.77,564.72 272.13,564.16 273.5,564.54 274.87,563.31 276.23,563.31 277.6,563 278.93,562.71 280.26,562.85 281.59,563.1 282.92,562.97 284.25,562.85 285.58,562.94 286.91,563.18 288.24,562.92 289.57,563.18 290.9,563" fill="none" stroke="#25a244" stroke-width="1.25" stroke-linejoin="round"/>
<polyline points="30,583.3 35.9,579.4" fill="none" stroke="#25a244" stroke-width="1.25" stroke-linejoin="round" stroke-dasharray="6.6 6.4"/>
<polyline points="39.8,564.6 43.8,555.7 47.7,553.8 52,553.2 206.1,552.8 210.2,554.8 220.4,559.9 234.7,554.8 269.4,556.9 275.6,559.9 288.9,576.3" fill="none" stroke="#25a244" stroke-width="1.25" stroke-linejoin="round" stroke-dasharray="6.6 6.4"/>
<path d="M30 422.4V598.4H292.7V422.4M26.7 588.66H30M292.7 588.66H296M28 578.91H30M292.7 578.91H294.7M26.7 569.17H30M292.7 569.17H296M28 559.42H30M292.7 559.42H294.7M26.7 549.68H30M292.7 549.68H296M28 539.93H30M292.7 539.93H294.7M26.7 530.19H30M292.7 530.19H296M28 520.44H30M292.7 520.44H294.7M26.7 510.7H30M292.7 510.7H296M28 500.96H30M292.7 500.96H294.7M26.7 491.21H30M292.7 491.21H296M28 481.47H30M292.7 481.47H294.7M26.7 471.72H30M292.7 471.72H296M28 461.98H30M292.7 461.98H294.7M26.7 452.23H30M292.7 452.23H296M28 442.49H30M292.7 442.49H294.7M26.7 432.74H30M292.7 432.74H296M28 423H30M292.7 423H294.7M30 598.4V601.7M55.43 598.4V600.4M80.86 598.4V601.7M106.29 598.4V600.4M131.72 598.4V601.7M157.15 598.4V600.4M182.58 598.4V601.7M208.01 598.4V600.4M233.44 598.4V601.7M258.87 598.4V600.4M284.3 598.4V601.7" stroke="#000" stroke-width="1.5" fill="none"/>
<path d="M313.3 422.4V599.1M313.3 598.4H316.3M313.3 578.91H315.3M313.3 559.42H316.3M313.3 539.93H315.3M313.3 520.44H316.3M313.3 500.96H315.3M313.3 481.47H316.3M313.3 461.98H315.3M313.3 442.49H316.3M313.3 423H315.3" stroke="#1a5fe0" stroke-width="1.6" fill="none"/>
<g font-family="Liberation Sans" font-weight="bold" font-size="9.8" fill="#111" stroke="#111" stroke-width="0.15"><text transform="translate(23.4 592.21) scale(1 1.1)" text-anchor="end">22</text><text transform="translate(298.5 592.21) scale(1 1.1)">22</text><text transform="translate(23.4 572.72) scale(1 1.1)" text-anchor="end">24</text><text transform="translate(298.5 572.72) scale(1 1.1)">24</text><text transform="translate(23.4 553.23) scale(1 1.1)" text-anchor="end">26</text><text transform="translate(298.5 553.23) scale(1 1.1)">26</text><text transform="translate(23.4 533.74) scale(1 1.1)" text-anchor="end">28</text><text transform="translate(298.5 533.74) scale(1 1.1)">28</text><text transform="translate(23.4 514.25) scale(1 1.1)" text-anchor="end">30</text><text transform="translate(298.5 514.25) scale(1 1.1)">30</text><text transform="translate(23.4 494.76) scale(1 1.1)" text-anchor="end">32</text><text transform="translate(298.5 494.76) scale(1 1.1)">32</text><text transform="translate(23.4 475.27) scale(1 1.1)" text-anchor="end">34</text><text transform="translate(298.5 475.27) scale(1 1.1)">34</text><text transform="translate(23.4 455.78) scale(1 1.1)" text-anchor="end">36</text><text transform="translate(298.5 455.78) scale(1 1.1)">36</text><text transform="translate(23.4 436.29) scale(1 1.1)" text-anchor="end">38</text><text transform="translate(298.5 436.29) scale(1 1.1)">38</text><text transform="translate(30 613.25) scale(1 1.1)" text-anchor="middle">0</text><text transform="translate(80.86 613.25) scale(1 1.1)" text-anchor="middle">1000</text><text transform="translate(131.72 613.25) scale(1 1.1)" text-anchor="middle">2000</text><text transform="translate(182.58 613.25) scale(1 1.1)" text-anchor="middle">3000</text><text transform="translate(233.44 613.25) scale(1 1.1)" text-anchor="middle">4000</text><text transform="translate(284.3 613.25) scale(1 1.1)" text-anchor="middle">5000</text></g>
<g font-family="Liberation Sans" font-weight="bold" font-size="9.8" fill="#1a5fe0" stroke="#1a5fe0" stroke-width="0.15"><text transform="translate(319.5 601.95) scale(1 1.1)">0.0</text><text transform="translate(319.5 562.97) scale(1 1.1)">0.2</text><text transform="translate(319.5 523.99) scale(1 1.1)">0.4</text><text transform="translate(319.5 485.02) scale(1 1.1)">0.6</text><text transform="translate(319.5 446.04) scale(1 1.1)">0.8</text></g>
<text font-family="Liberation Sans" font-weight="bold" font-size="9.8" fill="#111" x="161.35" y="626.8" text-anchor="middle">Time (min)</text>
<text font-family="Liberation Sans" font-weight="bold" font-size="8.8" fill="#111" text-anchor="middle" transform="translate(8.3 510.7) rotate(-90)">VWC(%)</text>
<text font-family="Liberation Sans" font-weight="bold" font-size="9.8" fill="#1a5fe0" text-anchor="middle" transform="translate(340.6 510.7) rotate(-90)">Rainfall (mm)</text>
<text font-family="Liberation Sans" font-weight="bold" font-size="8.9" fill="#111" stroke="#111" stroke-width="0.12" x="38" y="431.5">(e) Depth 2.6 cm</text>
<g font-family="Liberation Sans" font-weight="bold" font-size="8.0" fill="#111" stroke="#111" stroke-width="0.12"><path d="M175.4 431.6H193.4" stroke="#2f74e0" stroke-width="1.2"/><text x="195.5" y="434.1">Rainfall (mm)</text><path d="M175.4 441.4H193.4" stroke="#25a244" stroke-width="1.8"/><path d="M232.6 441.4H240M247.4 441.4H251.6" stroke="#25a244" stroke-width="1.8"/><text x="195.5" y="443.9">Exp.-S4</text><text x="253.7" y="443.9">Sim.-S4</text><path d="M175.4 451.8H193.4" stroke="#7a3b32" stroke-width="1.8"/><path d="M232.6 451.8H240M247.4 451.8H251.6" stroke="#7a3b32" stroke-width="1.8"/><text x="195.5" y="454.3">Exp.-S7</text><text x="253.7" y="454.3">Sim.-S7</text><path d="M175.4 461.8H193.4" stroke="#5b9bd5" stroke-width="1.8"/><path d="M232.6 461.8H240M247.4 461.8H251.6" stroke="#5b9bd5" stroke-width="1.8"/><text x="195.5" y="464.3">Exp.-S10</text><text x="253.7" y="464.3">Sim.-S10</text></g>
<path d="M375.5 592.1V572.07M382.5 592.1V572.07M396.5 573.07V495.93M403.5 592.1V553.03M406.5 592.1V553.03M409.5 592.1V534M414.5 592.1V553.03M427.5 592.1V553.03M437.5 592.1V572.07M443.5 592.1V572.07M447.5 592.1V572.07M466.5 592.1V534M467.5 592.1V514.97M477.5 573.07V476.9M484.5 573.07V514.97M488.5 592.1V534M492.5 592.1V553.03M495.5 592.1V553.03M503.5 592.1V572.07M521.5 592.1V553.03" stroke="#86aef0" stroke-width="1" fill="none" shape-rendering="crispEdges"/>
<path d="M376.5 574.02V572.07M377.5 574.02V572.07M378.5 592.1V572.07M380.5 592.1V572.07M381.5 574.02V572.07M383.5 592.1V514.97M384.5 592.1V553.03M385.5 592.1V553.03M386.5 573.07V534M387.5 554.03V534M388.5 573.07V495.93M389.5 573.07V476.9M390.5 554.03V534M391.5 535.95V534M392.5 554.99V553.03M393.5 573.07V476.9M394.5 573.07V534M395.5 554.99V553.03M397.5 574.02V572.07M398.5 592.1V553.03M399.5 592.1V514.97M400.5 592.1V534M401.5 573.07V553.03M402.5 573.07V495.93M404.5 592.1V553.03M405.5 516.92V514.97M407.5 592.1V553.03M408.5 574.02V572.07M410.5 592.1V534M411.5 573.07V534M412.5 592.1V553.03M413.5 592.1V553.03M416.5 592.1V534M417.5 592.1V534M419.5 592.1V572.07M421.5 592.1V534M422.5 592.1V534M423.5 554.99V553.03M424.5 592.1V534M425.5 554.99V553.03M426.5 554.99V553.03M428.5 592.1V553.03M429.5 592.1V572.07M430.5 592.1V572.07M431.5 592.1V572.07M432.5 592.1V572.07M433.5 592.1V572.07M434.5 592.1V572.07M436.5 592.1V572.07M439.5 574.02V572.07M440.5 592.1V572.07M441.5 574.02V572.07M442.5 574.02V572.07M444.5 592.1V572.07M445.5 574.02V572.07M448.5 592.1V572.07M449.5 592.1V553.03M450.5 592.1V572.07M451.5 592.1V572.07M452.5 592.1V572.07M453.5 574.02V572.07M454.5 574.02V572.07M465.5 592.1V438.83M468.5 592.1V553.03M469.5 592.1V534M470.5 592.1V514.97M471.5 554.03V534M472.5 554.03V514.97M473.5 573.07V476.9M474.5 573.07V457.87M475.5 496.93V476.9M476.5 515.97V476.9M478.5 554.03V534M479.5 573.07V553.03M480.5 554.99V553.03M481.5 535.95V534M482.5 554.03V534M483.5 592.1V476.9M485.5 573.07V457.87M486.5 573.07V514.97M487.5 573.07V534M489.5 592.1V534M490.5 592.1V514.97M491.5 592.1V534M493.5 554.99V553.03M494.5 592.1V534M496.5 592.1V553.03M497.5 592.1V553.03M498.5 592.1V572.07M499.5 574.02V572.07M500.5 592.1V534M501.5 592.1V553.03M502.5 574.02V572.07M504.5 592.1V553.03M505.5 574.02V572.07M506.5 592.1V572.07M507.5 592.1V553.03M508.5 592.1V572.07M509.5 592.1V572.07M510.5 592.1V572.07M511.5 592.1V553.03M512.5 592.1V572.07M513.5 592.1V572.07M514.5 592.1V572.07M515.5 592.1V553.03M516.5 592.1V553.03M517.5 592.1V514.97M518.5 592.1V553.03M519.5 592.1V553.03M520.5 592.1V534M522.5 592.1V553.03M523.5 573.07V553.03M524.5 592.1V534M525.5 592.1V553.03M526.5 592.1V553.03M527.5 592.1V553.03M528.5 592.1V553.03M529.5 554.99V553.03M530.5 592.1V572.07M531.5 592.1V572.07M532.5 592.1V572.07M533.5 592.1V572.07M534.5 574.02V572.07M389.5 573.07V476.9M392.5 573.07V476.9M388.5 573.07V495.93M395.5 573.07V495.93M401.5 592.1V495.93M383.5 592.1V514.97M398.5 592.1V514.97M404.5 592.1V514.97M464.5 592.1V438.83M474.5 573.07V457.87M485.5 573.07V457.87M483.5 592.1V476.9M473.5 573.07V476.9M476.5 573.07V476.9" stroke="#1a63dc" stroke-width="1" fill="none" shape-rendering="crispEdges"/>
<polyline points="375.1,455.2 376.65,455.4 378.2,455.36 379.75,456.06 381.3,456.2 382.85,454.17 384.4,451.1 385.7,450 387,448.4 388.3,447.21 389.6,445.9 390.95,446.2 392.3,445.87 393.65,445.8 395,445.71 396.35,445.58 397.7,445.23 399.05,445.79 400.4,445.94 401.75,445.03 403.1,445.3 404.57,445.1 406.04,444.99 407.51,444.3 408.99,444.51 410.46,444.27 411.93,444.24 413.4,443.8 414.78,444.21 416.17,444.38 417.55,445.26 418.93,445.79 420.32,445.57 421.7,445.9 423.07,444.53 424.43,443.85 425.8,442.4 427.18,442.38 428.57,442.26 429.95,442.68 431.33,442.69 432.72,442.39 434.1,442.8 435.5,443.54 436.9,445.23 438.3,445.9 439.85,445.31 441.4,444.56 442.95,444.13 444.5,443.8 446.05,443.96 447.6,444.44 449.15,444.49 450.7,444.4 452.07,444.7 453.43,445.45 454.8,445.9 456.18,445.47 457.57,446.01 458.95,446.44 460.33,446.6 461.72,446.7 463.1,446.9 465.2,444.4 466.67,443.77 468.14,443.82 469.61,444.21 471.09,443.45 472.56,443.99 474.03,442.91 475.5,443.2 476.88,442.77 478.26,443.11 479.64,443.33 481.02,442.88 482.4,442.91 483.78,442.2 485.16,442.54 486.54,442.35 487.92,442.6 489.3,442.57 490.68,442.01 492.06,442.4 493.44,441.69 494.82,441.43 496.2,441.7 498.1,441.68 500,442.4 501.32,442.51 502.65,442.16 503.97,442.14 505.3,442.54 506.62,442.15 507.94,441.82 509.27,441.88 510.59,442.11 511.92,441.63 513.24,442.12 514.56,441.53 515.89,441.74 517.21,441.51 518.54,441.88 519.86,441.65 521.18,441.74 522.51,441.52 523.83,441.36 525.16,441.13 526.48,441.45 527.8,440.95 529.13,441.19 530.45,440.7 531.78,441.39 533.1,441.1 534.5,442.04 535.9,443.2 537.3,443.8 538.67,443.15 540.03,443.25 541.4,442.99 542.77,442.46 544.13,442.47 545.5,442.4 546.99,442.12 548.47,441.34 549.96,440.98 551.44,439.64 552.93,439.21 554.41,438.82 555.9,438.2 557.39,438.56 558.87,438.96 560.36,439.04 561.84,439.03 563.33,439.29 564.81,439.68 566.3,439.7 567.85,437.95 569.4,436.6 570.77,438.08 572.13,439.47 573.5,440.7 574.85,441.22 576.2,441.64 577.55,441.62 578.9,442.12 580.25,442.35 581.6,442.73 582.95,442.53 584.3,443.21 585.65,443.46 587,443.8 588.38,443.95 589.76,444.02 591.14,444.27 592.52,444.35 593.9,444.58 595.28,444.47 596.66,445.01 598.04,445.25 599.42,445.73 600.8,445.26 602.18,445.94 603.56,446.43 604.94,446.26 606.32,446.5 607.7,446.5 609.06,447.78 610.41,448.55 611.77,449.61 613.12,450.7 614.48,452.12 615.84,452.97 617.19,453.81 618.55,455.18 619.91,456.27 621.26,456.88 622.62,458.3 623.98,459.18 625.33,460.24 626.69,461.31 628.04,462.61 629.4,463.5" fill="none" stroke="#5cbd1e" stroke-width="1.25" stroke-linejoin="round"/>
<polyline points="375,457.3 381.3,458.3" fill="none" stroke="#5cbd1e" stroke-width="1.25" stroke-linejoin="round" stroke-dasharray="6.6 6.4"/>
<polyline points="395.8,441.1 403.1,439.7 410,439.2 629.4,439.5" fill="none" stroke="#5cbd1e" stroke-width="1.25" stroke-linejoin="round" stroke-dasharray="6.6 6.4"/>
<polyline points="375.1,500.7 376.45,500.42 377.8,500.67 379.15,500.06 380.5,500.34 381.85,500.52 383.2,500.18 384.55,500.05 385.9,499.62 387.25,499.38 388.6,499.7 390.07,498.82 391.54,499.22 393.01,499.56 394.49,499.06 395.96,498.81 397.43,498.56 398.9,498.3 400.2,497.43 401.5,496.28 402.8,496.28 404.1,495.39 405.4,494.82 406.7,494.19 408,493.4 409.3,492.9 410.62,492.49 411.94,493.05 413.25,491.94 414.57,491.36 415.89,492.03 417.21,491.27 418.53,491.48 419.85,491.49 421.16,491.38 422.48,491.33 423.8,490.8 425.18,491.08 426.56,491.29 427.94,491.23 429.32,490.9 430.7,490.97 432.08,490.78 433.46,490.89 434.84,490.69 436.22,490.93 437.6,491.4 438.98,491.03 440.36,490.96 441.74,491.14 443.12,491.02 444.5,491.4 445.83,491.12 447.16,492.03 448.49,491.24 449.81,491.74 451.14,492.03 452.47,492.73 453.8,492.34 455.13,492.68 456.46,492.82 457.79,493.17 459.11,492.7 460.44,493.31 461.77,493.27 463.1,493.5 464.48,493.4 465.86,493.05 467.23,493.51 468.61,492.82 469.99,492.79 471.37,492.95 472.74,492.65 474.12,492.18 475.5,492.5 476.86,492.93 478.22,492.63 479.58,492.71 480.94,492.45 482.31,492.24 483.67,492.59 485.03,491.99 486.39,491.96 487.75,492.36 489.11,491.7 490.47,492.02 491.83,492.28 493.19,492.51 494.56,492.11 495.92,492.44 497.28,492.38 498.64,492.28 500,492 501.35,491.71 502.7,492.03 504.06,491.79 505.41,491.79 506.76,492.32 508.11,492.43 509.47,492.43 510.82,492.2 512.17,492.16 513.52,492.27 514.87,492.43 516.23,492.36 517.58,492.27 518.93,493.16 520.28,492.21 521.63,492.47 522.99,492.76 524.34,492.58 525.69,492.88 527.04,492.73 528.4,492.6 529.75,493.18 531.1,492.5 532.44,492.62 533.77,492.47 535.11,492.58 536.44,492.73 537.78,492.67 539.11,492.94 540.45,492.47 541.78,492.92 543.12,493.21 544.45,493.33 545.79,492.77 547.12,493.92 548.46,492.85 549.79,493.05 551.13,493.23 552.46,493.65 553.8,493.5 555.19,493.1 556.58,493.26 557.97,492.78 559.36,492.44 560.74,492.52 562.13,492.09 563.52,491.29 564.91,491.31 566.3,491.4 567.67,490.67 569.03,490.58 570.4,489.4 571.78,489.71 573.16,490.13 574.53,490.53 575.91,490.62 577.29,491.05 578.67,491.5 580.04,492.04 581.42,491.64 582.8,492.5 584.11,492.72 585.42,492.6 586.73,492.67 588.04,492.98 589.35,493.09 590.66,493.94 591.97,493.59 593.28,493.66 594.59,494.22 595.91,494.35 597.22,494.45 598.53,494.82 599.84,494.33 601.15,494.72 602.46,494.71 603.77,494.87 605.08,495.46 606.39,495.64 607.7,495.6 609.06,496.43 610.41,496.6 611.77,496.95 613.12,498.27 614.48,498.93 615.84,498.47 617.19,499.63 618.55,499.34 619.91,500.17 621.26,500.84 622.62,500.8 623.98,501.76 625.33,502.14 626.69,502.63 628.04,503.56 629.4,503.9" fill="none" stroke="#8f8f14" stroke-width="1.25" stroke-linejoin="round"/>
<polyline points="375,502.8 381.3,505.9" fill="none" stroke="#8f8f14" stroke-width="1.25" stroke-linejoin="round" stroke-dasharray="6.6 6.4"/>
<polyline points="388.6,498.7 401,494.5 412,491.5 609.7,491 616,493.5 629.4,499.7" fill="none" stroke="#8f8f14" stroke-width="1.25" stroke-linejoin="round" stroke-dasharray="6.6 6.4"/>
<polyline points="375.1,574.2 376.53,574.06 377.95,574.61 379.38,574.7 380.8,574.24 382.23,574.42 383.65,574.65 385.07,574.12 386.5,574.2 387.87,571.27 389.23,569.53 390.6,567 392.15,565.58 393.7,564.23 395.25,563.2 396.8,561.8 398.18,561.4 399.57,560.53 400.95,560.61 402.33,560.03 403.72,559.75 405.1,558.52 406.48,558.56 407.87,557.75 409.25,557.02 410.63,556.46 412.02,555.7 413.4,555.6 414.7,555.49 416,555.86 417.3,556.09 418.6,556.23 419.9,556.39 421.2,556.45 422.5,557.02 423.8,556.6 425.18,556.83 426.56,556.7 427.94,557.12 429.32,557.12 430.7,557.64 432.08,557.91 433.46,557.52 434.84,557.76 436.22,558.37 437.6,558.25 438.98,558.36 440.36,558.26 441.74,558.61 443.12,558.73 444.5,559.1 445.88,558.7 447.26,559.24 448.64,559.44 450.02,559.93 451.4,559.84 452.78,559.42 454.16,559.7 455.54,559.83 456.92,560.41 458.3,560.02 459.68,560.14 461.06,560.85 462.44,560.62 463.82,560.23 465.2,560.8 466.58,561.38 467.96,560.82 469.34,561.13 470.72,561.68 472.1,561.35 473.48,561.24 474.86,561.43 476.24,561.13 477.62,562.16 479,561.36 480.38,561.27 481.76,561.23 483.14,562.01 484.52,562.15 485.9,561.8 487.22,562.03 488.54,561.43 489.86,561.66 491.17,562.2 492.49,561.9 493.81,562.76 495.13,561.62 496.45,562.27 497.77,561.6 499.09,562.02 500.41,561.79 501.73,562.23 503.04,562.14 504.36,562.1 505.68,562.58 507,562.4 508.34,562.36 509.68,562.84 511.02,562.43 512.36,563.04 513.69,562.21 515.03,562.82 516.37,562.27 517.71,562.8 519.05,562.96 520.39,562.84 521.73,562.31 523.07,562.24 524.41,562.99 525.74,562.87 527.08,562.93 528.42,562.63 529.76,562.12 531.1,562.9 532.48,563.09 533.86,562.93 535.24,562.97 536.62,563.36 538,563.37 539.38,563.58 540.76,563.42 542.14,563.12 543.52,563.9 544.9,563.41 546.28,563.96 547.66,563.77 549.04,563.54 550.42,563.48 551.8,563.9 553.17,563.09 554.55,563.6 555.92,562.96 557.3,563.37 558.67,562.43 560.05,562.46 561.42,562.64 562.8,562.31 564.17,561.61 565.55,562.08 566.92,561.76 568.3,561.4 569.64,561.58 570.97,561.4 572.31,561.49 573.64,562.16 574.98,562.01 576.31,562.95 577.65,562.37 578.99,562.04 580.32,562.89 581.66,563.11 582.99,562.7 584.33,563.37 585.66,563.32 587,563.5 588.38,563.21 589.76,563.66 591.14,563.43 592.52,564.15 593.9,564.43 595.28,564.52 596.66,564.72 598.04,565.37 599.42,565.07 600.8,565.39 602.18,564.71 603.56,565.09 604.94,565.42 606.32,566.04 607.7,566 609.06,565.88 610.41,565.53 611.77,565.1 613.12,565.13 614.48,564.96 615.84,565.33 617.19,564.59 618.55,564.43 619.91,564.66 621.26,564.54 622.62,563.86 623.98,563.93 625.33,563.95 626.69,563.68 628.04,563.12 629.4,562.9" fill="none" stroke="#b565d8" stroke-width="1.25" stroke-linejoin="round"/>
<polyline points="375,577.3 380.3,581.5" fill="none" stroke="#b565d8" stroke-width="1.25" stroke-linejoin="round" stroke-dasharray="6.6 6.4"/>
<polyline points="398.9,560.8 423.8,556.6 541.4,556.6 551.8,558.7 566.3,560.8 568.3,558.5 578.7,558.7 611.8,560.8 629.4,561" fill="none" stroke="#b565d8" stroke-width="1.25" stroke-linejoin="round" stroke-dasharray="6.6 6.4"/>
<path d="M374.8 419.7V591.6H630.5V419.7M371.5 582.08H374.8M630.5 582.08H633.8M372.8 572.57H374.8M630.5 572.57H632.5M371.5 563.05H374.8M630.5 563.05H633.8M372.8 553.53H374.8M630.5 553.53H632.5M371.5 544.02H374.8M630.5 544.02H633.8M372.8 534.5H374.8M630.5 534.5H632.5M371.5 524.98H374.8M630.5 524.98H633.8M372.8 515.47H374.8M630.5 515.47H632.5M371.5 505.95H374.8M630.5 505.95H633.8M372.8 496.43H374.8M630.5 496.43H632.5M371.5 486.92H374.8M630.5 486.92H633.8M372.8 477.4H374.8M630.5 477.4H632.5M371.5 467.88H374.8M630.5 467.88H633.8M372.8 458.37H374.8M630.5 458.37H632.5M371.5 448.85H374.8M630.5 448.85H633.8M372.8 439.33H374.8M630.5 439.33H632.5M371.5 429.82H374.8M630.5 429.82H633.8M372.8 420.3H374.8M630.5 420.3H632.5M374.8 591.6V594.9M399.6 591.6V593.6M424.4 591.6V594.9M449.2 591.6V593.6M474 591.6V594.9M498.8 591.6V593.6M523.6 591.6V594.9M548.4 591.6V593.6M573.2 591.6V594.9M598 591.6V593.6M622.8 591.6V594.9" stroke="#000" stroke-width="1.5" fill="none"/>
<path d="M651 419.7V592.3M651 591.6H654M651 572.57H653M651 553.53H654M651 534.5H653M651 515.47H654M651 496.43H653M651 477.4H654M651 458.37H653M651 439.33H654M651 420.3H653" stroke="#1a5fe0" stroke-width="1.6" fill="none"/>
<g font-family="Liberation Sans" font-weight="bold" font-size="9.8" fill="#111" stroke="#111" stroke-width="0.15"><text transform="translate(368.2 585.63) scale(1 1.1)" text-anchor="end">22</text><text transform="translate(636.3 585.63) scale(1 1.1)">22</text><text transform="translate(368.2 566.6) scale(1 1.1)" text-anchor="end">24</text><text transform="translate(636.3 566.6) scale(1 1.1)">24</text><text transform="translate(368.2 547.57) scale(1 1.1)" text-anchor="end">26</text><text transform="translate(636.3 547.57) scale(1 1.1)">26</text><text transform="translate(368.2 528.53) scale(1 1.1)" text-anchor="end">28</text><text transform="translate(636.3 528.53) scale(1 1.1)">28</text><text transform="translate(368.2 509.5) scale(1 1.1)" text-anchor="end">30</text><text transform="translate(636.3 509.5) scale(1 1.1)">30</text><text transform="translate(368.2 490.47) scale(1 1.1)" text-anchor="end">32</text><text transform="translate(636.3 490.47) scale(1 1.1)">32</text><text transform="translate(368.2 471.43) scale(1 1.1)" text-anchor="end">34</text><text transform="translate(636.3 471.43) scale(1 1.1)">34</text><text transform="translate(368.2 452.4) scale(1 1.1)" text-anchor="end">36</text><text transform="translate(636.3 452.4) scale(1 1.1)">36</text><text transform="translate(368.2 433.37) scale(1 1.1)" text-anchor="end">38</text><text transform="translate(636.3 433.37) scale(1 1.1)">38</text><text transform="translate(374.8 606.45) scale(1 1.1)" text-anchor="middle">0</text><text transform="translate(424.4 606.45) scale(1 1.1)" text-anchor="middle">1000</text><text transform="translate(474 606.45) scale(1 1.1)" text-anchor="middle">2000</text><text transform="translate(523.6 606.45) scale(1 1.1)" text-anchor="middle">3000</text><text transform="translate(573.2 606.45) scale(1 1.1)" text-anchor="middle">4000</text><text transform="translate(622.8 606.45) scale(1 1.1)" text-anchor="middle">5000</text></g>
<g font-family="Liberation Sans" font-weight="bold" font-size="9.8" fill="#1a5fe0" stroke="#1a5fe0" stroke-width="0.15"><text transform="translate(657.2 595.15) scale(1 1.1)">0.0</text><text transform="translate(657.2 557.08) scale(1 1.1)">0.2</text><text transform="translate(657.2 519.02) scale(1 1.1)">0.4</text><text transform="translate(657.2 480.95) scale(1 1.1)">0.6</text><text transform="translate(657.2 442.88) scale(1 1.1)">0.8</text></g>
<text font-family="Liberation Sans" font-weight="bold" font-size="9.8" fill="#111" x="502.65" y="619.9" text-anchor="middle">Time (min)</text>
<text font-family="Liberation Sans" font-weight="bold" font-size="8.7" fill="#111" text-anchor="middle" transform="translate(353.8 505.95) rotate(-90)">VWC(%)</text>
<text font-family="Liberation Sans" font-weight="bold" font-size="9.8" fill="#1a5fe0" text-anchor="middle" transform="translate(679 505.95) rotate(-90)">Rainfall (mm)</text>
<text font-family="Liberation Sans" font-weight="bold" font-size="8.9" fill="#111" stroke="#111" stroke-width="0.12" x="383.3" y="428.8">(f) Depth 7.6 cm</text>
<g font-family="Liberation Sans" font-weight="bold" font-size="8.0" fill="#111" stroke="#111" stroke-width="0.12"><path d="M518.6 500.7H536.2" stroke="#2f74e0" stroke-width="1.2"/><text x="538.3" y="503.2">Rainfall (mm)</text><path d="M518.6 510.3H536.2" stroke="#b565d8" stroke-width="1.8"/><path d="M574.5 510.3H579.7M589 510.3H594.2" stroke="#b565d8" stroke-width="1.8"/><text x="538.3" y="512.8">Exp.-S5</text><text x="595.7" y="512.8">Sim.-S5</text><path d="M518.6 520.4H536.2" stroke="#8f8f14" stroke-width="1.8"/><path d="M574.5 520.4H579.7M589 520.4H594.2" stroke="#8f8f14" stroke-width="1.8"/><text x="538.3" y="522.9">Exp.-S8</text><text x="595.7" y="522.9">Sim.-S8</text><path d="M518.6 530.4H536.2" stroke="#5cbd1e" stroke-width="1.8"/><path d="M574.5 530.4H579.7M589 530.4H594.2" stroke="#5cbd1e" stroke-width="1.8"/><text x="538.3" y="532.9">Exp.-S11</text><text x="595.7" y="532.9">Sim.-S11</text></g>
<path d="M32.5 815.7V795.1M39.5 815.7V795.1M53.5 796.1V716.7M60.5 815.7V775.5M63.5 815.7V775.5M66.5 815.7V755.9M71.5 815.7V775.5M85.5 815.7V775.5M95.5 815.7V795.1M101.5 815.7V795.1M105.5 815.7V795.1M124.5 815.7V755.9M125.5 815.7V736.3M128.5 815.7V755.9M136.5 796.1V697.1M143.5 796.1V736.3M147.5 815.7V755.9M151.5 815.7V775.5M154.5 815.7V775.5M162.5 815.7V795.1M178.5 815.7V775.5M181.5 815.7V775.5" stroke="#86aef0" stroke-width="1" fill="none" shape-rendering="crispEdges"/>
<path d="M33.5 797.08V795.1M34.5 797.08V795.1M35.5 815.7V795.1M37.5 815.7V795.1M38.5 797.08V795.1M40.5 815.7V736.3M41.5 815.7V775.5M42.5 815.7V775.5M43.5 796.1V755.9M44.5 776.5V755.9M45.5 796.1V716.7M46.5 796.1V697.1M47.5 776.5V755.9M48.5 757.88V755.9M49.5 777.48V775.5M50.5 796.1V697.1M51.5 796.1V755.9M52.5 777.48V775.5M54.5 797.08V795.1M55.5 815.7V775.5M56.5 815.7V736.3M57.5 815.7V755.9M58.5 796.1V775.5M59.5 796.1V716.7M61.5 815.7V775.5M62.5 738.28V736.3M64.5 815.7V775.5M65.5 797.08V795.1M67.5 815.7V755.9M68.5 796.1V755.9M69.5 815.7V775.5M70.5 815.7V775.5M73.5 815.7V755.9M74.5 815.7V755.9M76.5 815.7V795.1M77.5 815.7V795.1M79.5 815.7V755.9M80.5 815.7V755.9M81.5 777.48V775.5M82.5 815.7V755.9M83.5 777.48V775.5M84.5 777.48V775.5M86.5 815.7V775.5M87.5 815.7V795.1M88.5 815.7V795.1M89.5 815.7V795.1M90.5 815.7V795.1M91.5 815.7V795.1M92.5 815.7V795.1M94.5 815.7V795.1M97.5 797.08V795.1M98.5 815.7V795.1M99.5 797.08V795.1M100.5 797.08V795.1M102.5 815.7V795.1M103.5 797.08V795.1M106.5 815.7V795.1M107.5 815.7V775.5M108.5 815.7V795.1M109.5 815.7V795.1M110.5 815.7V795.1M111.5 797.08V795.1M112.5 797.08V795.1M123.5 815.7V657.9M126.5 815.7V775.5M127.5 796.1V775.5M129.5 815.7V736.3M130.5 776.5V755.9M131.5 776.5V736.3M132.5 796.1V697.1M133.5 796.1V677.5M134.5 717.7V697.1M135.5 737.3V697.1M137.5 776.5V755.9M138.5 796.1V775.5M139.5 777.48V775.5M140.5 757.88V755.9M141.5 776.5V755.9M142.5 815.7V697.1M144.5 796.1V677.5M145.5 796.1V736.3M146.5 796.1V755.9M148.5 815.7V755.9M149.5 815.7V736.3M150.5 815.7V755.9M152.5 777.48V775.5M153.5 815.7V755.9M155.5 815.7V775.5M156.5 815.7V775.5M157.5 815.7V795.1M158.5 797.08V795.1M159.5 815.7V755.9M160.5 815.7V775.5M161.5 797.08V795.1M163.5 815.7V775.5M164.5 797.08V795.1M165.5 815.7V795.1M166.5 815.7V775.5M167.5 815.7V795.1M168.5 815.7V795.1M169.5 815.7V795.1M170.5 815.7V775.5M171.5 815.7V795.1M172.5 815.7V795.1M173.5 815.7V795.1M174.5 815.7V775.5M175.5 815.7V775.5M176.5 815.7V736.3M177.5 815.7V775.5M179.5 815.7V775.5M180.5 815.7V755.9M182.5 815.7V775.5M183.5 796.1V775.5M184.5 815.7V755.9M185.5 815.7V775.5M186.5 815.7V775.5M187.5 815.7V775.5M188.5 815.7V775.5M189.5 777.48V775.5M190.5 815.7V795.1M191.5 815.7V795.1M192.5 815.7V795.1M193.5 815.7V795.1M194.5 797.08V795.1M45.5 796.1V697.1M49.5 796.1V697.1M44.5 796.1V716.7M52.5 796.1V716.7M58.5 815.7V716.7M39.5 815.7V736.3M55.5 815.7V736.3M61.5 815.7V736.3M122.5 815.7V657.9M132.5 796.1V677.5M143.5 796.1V677.5M141.5 815.7V697.1M131.5 796.1V697.1M134.5 796.1V697.1" stroke="#1a63dc" stroke-width="1" fill="none" shape-rendering="crispEdges"/>
<polyline points="31,765.9 32.47,766.25 33.93,765.99 35.4,766.11 36.87,765.96 38.33,766.79 39.8,766.9 41.12,766.56 42.43,766.32 43.75,765.45 45.07,765.64 46.38,765.19 47.7,764.9 49.11,764.84 50.53,763.94 51.94,763.52 53.36,763.24 54.77,762.83 56.19,761.92 57.6,761.9 59,761.38 60.4,761.42 61.8,760.67 63.2,760.65 64.6,759.43 66,759.74 67.4,759 68.71,758.8 70.02,758.8 71.33,758.06 72.64,758.4 73.96,757.52 75.27,757.74 76.58,757.83 77.89,757.76 79.2,757 80.57,756.71 81.94,757.13 83.31,756.75 84.68,756.89 86.05,756.93 87.42,756.8 88.78,756.58 90.15,757.28 91.52,756.56 92.89,756.8 94.26,756.43 95.63,756.68 97,756.6 98.35,757.23 99.69,756.51 101.04,756.75 102.39,756.65 103.74,756.39 105.08,757.56 106.43,757.02 107.78,757.35 109.13,757.28 110.47,757.43 111.82,757.97 113.17,757.51 114.52,757.76 115.86,757.63 117.21,757.51 118.56,758.24 119.91,758.05 121.25,757.81 122.6,758 123.98,758.02 125.36,757.93 126.74,758.15 128.12,757.32 129.5,757.91 130.88,757.49 132.26,757.24 133.64,757.39 135.02,757.02 136.4,757 137.73,757.38 139.06,756.75 140.39,757.05 141.71,756.71 143.04,756.89 144.37,756.28 145.7,756.08 147.03,756.01 148.36,756.11 149.69,755.71 151.01,756.36 152.34,755.84 153.67,755.79 155,755.8 156.33,755.85 157.67,755.87 159,755.32 160.34,755.87 161.67,755.38 163.01,755.77 164.34,755.67 165.68,755.54 167.01,755.54 168.35,755.86 169.68,755.58 171.02,755.68 172.35,755.61 173.69,755.64 175.02,755.68 176.36,755.64 177.69,756.06 179.03,755.67 180.36,755.65 181.7,756.19 183.03,755.92 184.37,755.72 185.7,755.8 187.02,755.68 188.35,755.82 189.67,756.1 191,755.68 192.32,756.49 193.65,755.87 194.97,755.94 196.3,756.12 197.62,756.17 198.95,755.64 200.27,756.13 201.6,756.51 202.92,756.17 204.25,756.11 205.57,756.53 206.9,755.94 208.22,756.76 209.55,756.71 210.88,756.36 212.2,756.4 213.51,756.09 214.83,755.71 216.14,755.76 217.46,755.39 218.77,755.51 220.09,754.83 221.4,754.96 222.71,755.1 224.03,754.26 225.34,754.55 226.66,754.46 227.97,754.01 229.29,753.37 230.6,753.4 231.97,753.49 233.33,753.77 234.7,753.89 236.07,753.99 237.43,753.97 238.8,754.34 240.17,754.57 241.53,754.43 242.9,754.11 244.27,754.29 245.63,755.01 247,755 248.33,754.84 249.66,755.04 250.99,755.89 252.32,755.24 253.65,755.1 254.98,755.03 256.31,755.37 257.64,755.86 258.97,755.18 260.3,755.23 261.63,755.69 262.97,755.62 264.3,755.36 265.63,755.55 266.96,756.12 268.29,755.92 269.62,755.85 270.95,756.03 272.28,756.17 273.61,756.13 274.94,756.16 276.27,756.19 277.6,756.4 278.93,756.19 280.26,756.16 281.59,756.24 282.92,755.79 284.25,755.8 285.58,755.17 286.91,755.36 288.24,755.24 289.57,755.02 290.9,755" fill="none" stroke="#1fc6c6" stroke-width="1.25" stroke-linejoin="round"/>
<polyline points="31,778.7 37.9,781" fill="none" stroke="#1fc6c6" stroke-width="1.25" stroke-linejoin="round" stroke-dasharray="6.6 6.4"/>
<polyline points="45.7,778.7 59.5,762.9 73,757.5 100,756 290.9,755.5" fill="none" stroke="#1fc6c6" stroke-width="1.25" stroke-linejoin="round" stroke-dasharray="6.6 6.4"/>
<polyline points="31,784.6 32.33,784.65 33.66,784.42 34.99,784.93 36.32,784.73 37.65,784.65 38.98,784.42 40.31,783.98 41.64,784.56 42.97,784.63 44.3,784.46 45.63,784.63 46.96,783.82 48.29,784.38 49.62,785.11 50.95,784.1 52.28,784.24 53.61,784.32 54.94,784.95 56.27,784.13 57.6,784.2 58.9,783.6 60.2,783.54 61.5,782.4 62.8,781.64 64.1,781.13 65.4,780.7 66.72,779.23 68.03,778.25 69.35,777.32 70.67,776.12 71.98,774.85 73.3,773.8 74.71,772.74 76.13,772.24 77.54,771.29 78.96,770.41 80.37,769.65 81.79,769.17 83.2,768.4 84.58,768.63 85.96,768 87.34,768.22 88.72,767.48 90.1,767.2 91.48,767.38 92.86,767.54 94.24,767.27 95.62,766.63 97,766.9 98.35,766.98 99.69,767 101.04,766.92 102.39,767.06 103.74,766.06 105.08,766.55 106.43,765.98 107.78,766.07 109.13,766 110.47,766.51 111.82,766.33 113.17,766.07 114.52,766.05 115.86,766.11 117.21,766.04 118.56,766.07 119.91,766.06 121.25,766.02 122.6,765.9 123.91,765.37 125.23,765.76 126.54,765.28 127.85,765.43 129.17,765.58 130.48,764.94 131.79,765.65 133.11,765.28 134.42,764.84 135.73,764.86 137.05,764.8 138.36,765.17 139.67,764.38 140.99,764.84 142.3,764.5 143.71,763.99 145.12,764.21 146.53,763.62 147.94,763.42 149.36,764.31 150.77,763.17 152.18,762.59 153.59,762.58 155,762.6 156.36,762.65 157.72,762.69 159.08,762.16 160.44,762.28 161.8,761.57 163.16,762.14 164.52,762.02 165.88,762.05 167.24,762.2 168.6,761.51 169.96,761.79 171.32,761.27 172.68,761.11 174.04,761.62 175.4,761.5 176.77,761.62 178.13,760.99 179.5,760.32 180.87,761.62 182.23,761.52 183.6,761 184.97,761.34 186.33,761.17 187.7,760.93 189.07,760.96 190.43,760.9 191.8,760.43 193.17,760.91 194.53,760.41 195.9,760.5 197.26,759.74 198.62,760.79 199.98,759.92 201.34,760.48 202.7,760.6 204.06,760.54 205.42,761.14 206.78,760.82 208.14,760.85 209.5,760.73 210.86,761.06 212.22,761.12 213.58,760.87 214.94,761.32 216.3,761.1 217.73,760.5 219.16,760.55 220.59,760.14 222.02,759.94 223.45,759.98 224.88,759.32 226.31,759.32 227.74,758.98 229.17,758.69 230.6,758.5 231.93,758.61 233.26,758.08 234.59,758.76 235.92,759.13 237.25,758.97 238.58,758.66 239.91,758.82 241.24,758.52 242.57,758.68 243.9,758.72 245.23,758.52 246.56,758.65 247.89,759.09 249.22,758.63 250.55,758.42 251.88,758.95 253.21,759.22 254.54,758.83 255.87,758.94 257.2,759.1 258.56,759.01 259.92,758.94 261.28,759.12 262.64,759.54 264,759.66 265.36,759.77 266.72,759.85 268.08,760.17 269.44,760.57 270.8,760.57 272.16,760.8 273.52,760.73 274.88,761.08 276.24,761 277.6,761.1 278.93,760.95 280.26,760.24 281.59,760.49 282.92,759.96 284.25,759.94 285.58,759.5 286.91,759.12 288.24,759 289.57,758.92 290.9,758.5" fill="none" stroke="#ff5b14" stroke-width="1.25" stroke-linejoin="round"/>
<polyline points="31,774.7 34.9,769.8" fill="none" stroke="#ff5b14" stroke-width="1.25" stroke-linejoin="round" stroke-dasharray="6.6 6.4"/>
<polyline points="42.8,767.8 57.6,761 73.3,757 106.8,754 163,753.5 290.9,753.8" fill="none" stroke="#ff5b14" stroke-width="1.25" stroke-linejoin="round" stroke-dasharray="6.6 6.4"/>
<path d="M31 638.2V815.2H292.7V638.2M27.7 805.4H31M292.7 805.4H296M29 795.6H31M292.7 795.6H294.7M27.7 785.8H31M292.7 785.8H296M29 776H31M292.7 776H294.7M27.7 766.2H31M292.7 766.2H296M29 756.4H31M292.7 756.4H294.7M27.7 746.6H31M292.7 746.6H296M29 736.8H31M292.7 736.8H294.7M27.7 727H31M292.7 727H296M29 717.2H31M292.7 717.2H294.7M27.7 707.4H31M292.7 707.4H296M29 697.6H31M292.7 697.6H294.7M27.7 687.8H31M292.7 687.8H296M29 678H31M292.7 678H294.7M27.7 668.2H31M292.7 668.2H296M29 658.4H31M292.7 658.4H294.7M27.7 648.6H31M292.7 648.6H296M29 638.8H31M292.7 638.8H294.7M31 815.2V818.5M56.34 815.2V817.2M81.68 815.2V818.5M107.02 815.2V817.2M132.36 815.2V818.5M157.7 815.2V817.2M183.04 815.2V818.5M208.38 815.2V817.2M233.72 815.2V818.5M259.06 815.2V817.2M284.4 815.2V818.5" stroke="#000" stroke-width="1.5" fill="none"/>
<path d="M313.5 638.2V815.9M313.5 815.2H316.5M313.5 795.6H315.5M313.5 776H316.5M313.5 756.4H315.5M313.5 736.8H316.5M313.5 717.2H315.5M313.5 697.6H316.5M313.5 678H315.5M313.5 658.4H316.5M313.5 638.8H315.5" stroke="#1a5fe0" stroke-width="1.6" fill="none"/>
<g font-family="Liberation Sans" font-weight="bold" font-size="9.8" fill="#111" stroke="#111" stroke-width="0.15"><text transform="translate(24.4 808.95) scale(1 1.1)" text-anchor="end">22</text><text transform="translate(298.5 808.95) scale(1 1.1)">22</text><text transform="translate(24.4 789.35) scale(1 1.1)" text-anchor="end">24</text><text transform="translate(298.5 789.35) scale(1 1.1)">24</text><text transform="translate(24.4 769.75) scale(1 1.1)" text-anchor="end">26</text><text transform="translate(298.5 769.75) scale(1 1.1)">26</text><text transform="translate(24.4 750.15) scale(1 1.1)" text-anchor="end">28</text><text transform="translate(298.5 750.15) scale(1 1.1)">28</text><text transform="translate(24.4 730.55) scale(1 1.1)" text-anchor="end">30</text><text transform="translate(298.5 730.55) scale(1 1.1)">30</text><text transform="translate(24.4 710.95) scale(1 1.1)" text-anchor="end">32</text><text transform="translate(298.5 710.95) scale(1 1.1)">32</text><text transform="translate(24.4 691.35) scale(1 1.1)" text-anchor="end">34</text><text transform="translate(298.5 691.35) scale(1 1.1)">34</text><text transform="translate(24.4 671.75) scale(1 1.1)" text-anchor="end">36</text><text transform="translate(298.5 671.75) scale(1 1.1)">36</text><text transform="translate(24.4 652.15) scale(1 1.1)" text-anchor="end">38</text><text transform="translate(298.5 652.15) scale(1 1.1)">38</text><text transform="translate(31 830.05) scale(1 1.1)" text-anchor="middle">0</text><text transform="translate(81.68 830.05) scale(1 1.1)" text-anchor="middle">1000</text><text transform="translate(132.36 830.05) scale(1 1.1)" text-anchor="middle">2000</text><text transform="translate(183.04 830.05) scale(1 1.1)" text-anchor="middle">3000</text><text transform="translate(233.72 830.05) scale(1 1.1)" text-anchor="middle">4000</text><text transform="translate(284.4 830.05) scale(1 1.1)" text-anchor="middle">5000</text></g>
<g font-family="Liberation Sans" font-weight="bold" font-size="9.8" fill="#1a5fe0" stroke="#1a5fe0" stroke-width="0.15"><text transform="translate(319.7 818.75) scale(1 1.1)">0.0</text><text transform="translate(319.7 779.55) scale(1 1.1)">0.2</text><text transform="translate(319.7 740.35) scale(1 1.1)">0.4</text><text transform="translate(319.7 701.15) scale(1 1.1)">0.6</text><text transform="translate(319.7 661.95) scale(1 1.1)">0.8</text></g>
<text font-family="Liberation Sans" font-weight="bold" font-size="9.8" fill="#111" x="161.85" y="843" text-anchor="middle">Time (min)</text>
<text font-family="Liberation Sans" font-weight="bold" font-size="8.8" fill="#111" text-anchor="middle" transform="translate(9.7 727) rotate(-90)">VWC(%)</text>
<text font-family="Liberation Sans" font-weight="bold" font-size="9.8" fill="#1a5fe0" text-anchor="middle" transform="translate(340.5 727) rotate(-90)">Rainfall (mm)</text>
<text font-family="Liberation Sans" font-weight="bold" font-size="8.9" fill="#111" stroke="#111" stroke-width="0.12" x="37.4" y="647.9">(g) Depth 14.6 cm</text>
<g font-family="Liberation Sans" font-weight="bold" font-size="8.0" fill="#111" stroke="#111" stroke-width="0.12"><path d="M178.6 640.6H196.6" stroke="#4f8fe8" stroke-width="1.0"/><text x="199.7" y="643.1">Rainfall (mm)</text><path d="M178.6 650.6H196.6" stroke="#1fc6c6" stroke-width="1.8"/><path d="M236.8 650.6H243.1M251.2 650.6H255.4" stroke="#1fc6c6" stroke-width="1.8"/><text x="199.7" y="653.1">Exp.-S6</text><text x="257.5" y="653.1">Sim.-S6</text><path d="M178.6 660.7H196.6" stroke="#ff5b14" stroke-width="1.8"/><path d="M236.8 660.7H243.1M251.2 660.7H255.4" stroke="#ff5b14" stroke-width="1.8"/><text x="199.7" y="663.2">Exp.-S9</text><text x="257.5" y="663.2">Sim.-S9</text></g>
<path d="M375.5 810.5V790.04M382.5 810.5V790.04M396.5 791.04V712.22M403.5 810.5V770.59M406.5 810.5V770.59M409.5 810.5V751.13M414.5 810.5V770.59M428.5 810.5V770.59M438.5 810.5V790.04M444.5 810.5V790.04M448.5 810.5V790.04M467.5 810.5V751.13M468.5 810.5V731.68M471.5 810.5V751.13M479.5 791.04V692.77M486.5 791.04V731.68M490.5 810.5V751.13M494.5 810.5V770.59M497.5 810.5V770.59M505.5 810.5V790.04M521.5 810.5V770.59M524.5 810.5V770.59" stroke="#86aef0" stroke-width="1" fill="none" shape-rendering="crispEdges"/>
<path d="M376.5 792.02V790.04M377.5 792.02V790.04M378.5 810.5V790.04M380.5 810.5V790.04M381.5 792.02V790.04M383.5 810.5V731.68M384.5 810.5V770.59M385.5 810.5V770.59M386.5 791.04V751.13M387.5 771.59V751.13M388.5 791.04V712.22M389.5 791.04V692.77M390.5 771.59V751.13M391.5 753.11V751.13M392.5 772.56V770.59M393.5 791.04V692.77M394.5 791.04V751.13M395.5 772.56V770.59M397.5 792.02V790.04M398.5 810.5V770.59M399.5 810.5V731.68M400.5 810.5V751.13M401.5 791.04V770.59M402.5 791.04V712.22M404.5 810.5V770.59M405.5 733.65V731.68M407.5 810.5V770.59M408.5 792.02V790.04M410.5 810.5V751.13M411.5 791.04V751.13M412.5 810.5V770.59M413.5 810.5V770.59M416.5 810.5V751.13M417.5 810.5V751.13M419.5 810.5V790.04M420.5 810.5V790.04M422.5 810.5V751.13M423.5 810.5V751.13M424.5 772.56V770.59M425.5 810.5V751.13M426.5 772.56V770.59M427.5 772.56V770.59M429.5 810.5V770.59M430.5 810.5V790.04M431.5 810.5V790.04M432.5 810.5V790.04M433.5 810.5V790.04M434.5 810.5V790.04M435.5 810.5V790.04M437.5 810.5V790.04M440.5 792.02V790.04M441.5 810.5V790.04M442.5 792.02V790.04M443.5 792.02V790.04M445.5 810.5V790.04M446.5 792.02V790.04M449.5 810.5V790.04M450.5 810.5V770.59M451.5 810.5V790.04M452.5 810.5V790.04M453.5 810.5V790.04M454.5 792.02V790.04M455.5 792.02V790.04M466.5 810.5V653.86M469.5 810.5V770.59M470.5 791.04V770.59M472.5 810.5V731.68M473.5 771.59V751.13M474.5 771.59V731.68M475.5 791.04V692.77M476.5 791.04V673.31M477.5 713.22V692.77M478.5 732.68V692.77M480.5 771.59V751.13M481.5 791.04V770.59M482.5 772.56V770.59M483.5 753.11V751.13M484.5 771.59V751.13M485.5 810.5V692.77M487.5 791.04V673.31M488.5 791.04V731.68M489.5 791.04V751.13M491.5 810.5V751.13M492.5 810.5V731.68M493.5 810.5V751.13M495.5 772.56V770.59M496.5 810.5V751.13M498.5 810.5V770.59M499.5 810.5V770.59M500.5 810.5V790.04M501.5 792.02V790.04M502.5 810.5V751.13M503.5 810.5V770.59M504.5 792.02V790.04M506.5 810.5V770.59M507.5 792.02V790.04M508.5 810.5V790.04M509.5 810.5V770.59M510.5 810.5V790.04M511.5 810.5V790.04M512.5 810.5V790.04M513.5 810.5V770.59M514.5 810.5V790.04M515.5 810.5V790.04M516.5 810.5V790.04M517.5 810.5V770.59M518.5 810.5V770.59M519.5 810.5V731.68M520.5 810.5V770.59M522.5 810.5V770.59M523.5 810.5V751.13M525.5 810.5V770.59M526.5 810.5V751.13M527.5 810.5V770.59M528.5 810.5V770.59M529.5 810.5V770.59M530.5 810.5V770.59M531.5 772.56V770.59M532.5 810.5V790.04M533.5 810.5V790.04M534.5 810.5V790.04M535.5 810.5V790.04M536.5 792.02V790.04M388.5 791.04V692.77M392.5 791.04V692.77M387.5 791.04V712.22M395.5 791.04V712.22M401.5 810.5V712.22M382.5 810.5V731.68M398.5 810.5V731.68M404.5 810.5V731.68M465.5 810.5V653.86M475.5 791.04V673.31M486.5 791.04V673.31M484.5 810.5V692.77M474.5 791.04V692.77M477.5 791.04V692.77" stroke="#1a63dc" stroke-width="1" fill="none" shape-rendering="crispEdges"/>
<polyline points="375.2,688.2 376.62,688.43 378.03,688.01 379.45,688.15 380.87,688.67 382.28,688.37 383.7,688.7 385.8,678.7 387.4,676.29 389,673.3 390.43,672.75 391.87,672.39 393.3,671.6 394.63,671.43 395.96,671.72 397.29,672.03 398.62,672.46 399.96,671.84 401.29,671.43 402.62,672.71 403.95,672.96 405.28,672.57 406.61,672.54 407.94,672.33 409.28,672.16 410.61,672.07 411.94,672.99 413.27,673.24 414.6,672.9 415.93,672.61 417.25,672.43 418.57,672.6 419.9,672.13 421.23,671.89 422.55,672 423.88,672.22 425.2,671.6 426.63,671.77 428.07,672.29 429.5,672.11 430.93,672.67 432.37,672.58 433.8,672.9 435.38,674.12 436.95,674.94 438.53,675.82 440.1,677.6 441.52,677.95 442.94,678.44 444.37,679.24 445.79,679.23 447.21,679.38 448.63,679.97 450.06,681.05 451.48,681.37 452.9,681.8 454.32,682.24 455.74,682.41 457.17,683.13 458.59,684.03 460.01,684.32 461.43,685.12 462.86,685.53 464.28,685.98 465.7,686.5 467.12,686.86 468.54,686.25 469.97,686.49 471.39,686.6 472.81,687.14 474.23,687.33 475.66,686.95 477.08,687.18 478.5,687.2 479.84,687.85 481.19,686.53 482.53,687.23 483.88,687.53 485.22,687.04 486.56,687.24 487.91,687.67 489.25,687.33 490.59,687.48 491.94,687.45 493.28,687.39 494.62,687.81 495.97,687.47 497.31,687.86 498.66,687.59 500,687.8 501.33,687.65 502.67,688.14 504,688.5 505.33,688.33 506.67,688.85 508,688.63 509.33,688.44 510.67,688.4 512,688.96 513.33,688.83 514.67,688.81 516,688.87 517.33,689.03 518.67,689.63 520,689.73 521.33,689.94 522.67,690.13 524,689.42 525.33,689.83 526.67,690.75 528,690.44 529.33,690.71 530.67,690.85 532,690.8 533.48,691.13 534.96,692.11 536.44,692.03 537.92,693.19 539.4,693.6 540.79,693.2 542.18,693.4 543.57,693.33 544.96,693.2 546.35,693 547.74,692.41 549.13,692.61 550.52,692.24 551.91,692.4 553.3,692.1 554.61,691.82 555.92,691.83 557.22,691.5 558.53,691.61 559.84,691.64 561.15,691.6 562.45,691.2 563.76,691.03 565.07,691.04 566.38,690.92 567.68,690.86 568.99,690.81 570.3,690.8 571.9,690.04 573.5,689.3 574.83,690.68 576.15,691.13 577.47,692.64 578.8,693.6 580.12,694.08 581.43,694.52 582.75,694.47 584.06,694.81 585.38,695.35 586.69,695.43 588.01,695.51 589.32,696.07 590.64,696.54 591.95,696.03 593.27,696.6 594.58,696.98 595.9,697.2 597.25,697.27 598.61,697.08 599.96,698.17 601.32,698.08 602.67,698.33 604.03,698.27 605.38,699.17 606.74,699.23 608.09,699.14 609.45,699.63 610.8,700 612.14,700.55 613.47,699.75 614.81,699.65 616.15,699.73 617.49,699.37 618.83,699.25 620.16,699.64 621.5,698.9 622.8,698.56 624.1,698.63 625.4,697.59 626.7,698.01 628,697.51 629.3,697.17 630.6,696.63 631.9,696.54 633.2,696.4" fill="none" stroke="#3c3c3c" stroke-width="1.25" stroke-linejoin="round"/>
<polyline points="384.8,679.7 389,673.3 395,672.3 500,671.6 532,672.9 546.9,674.4 557.5,678.7 570.3,684 573.5,675.1 585.2,678 610.8,679.7 619.3,683 630,692.5" fill="none" stroke="#3c3c3c" stroke-width="1.25" stroke-linejoin="round" stroke-dasharray="6.6 6.4"/>
<polyline points="375.2,734.7 376.59,734.44 377.98,734.59 379.38,734.64 380.77,734.66 382.16,734.59 383.55,734.58 384.95,734.05 386.34,733.75 387.73,733.89 389.12,733.86 390.52,734.14 391.91,734.17 393.3,734 394.63,733.72 395.96,734.06 397.29,733.9 398.62,734.22 399.96,735.39 401.29,734.84 402.62,735.37 403.95,734.63 405.28,734.85 406.61,735.39 407.94,736.12 409.28,735.31 410.61,735.85 411.94,736.08 413.27,735.9 414.6,736.2 415.93,736.11 417.26,735.81 418.59,736.22 419.93,735.44 421.26,735.38 422.59,735.55 423.92,735.26 425.25,734.92 426.58,734.71 427.91,734.73 429.24,734.43 430.57,734.51 431.91,734.33 433.24,734.36 434.57,733.92 435.9,734 437.25,734.27 438.61,733.8 439.96,733.17 441.32,733.64 442.67,733.91 444.03,733.74 445.38,733.69 446.74,733.41 448.09,733.44 449.45,733.65 450.8,734.09 452.15,733.72 453.51,732.86 454.86,733.54 456.22,733.07 457.57,733.41 458.93,733.37 460.28,733.21 461.64,733.29 462.99,732.92 464.35,732.84 465.7,733 467.01,733 468.32,732.82 469.62,732.8 470.93,732.82 472.24,732.26 473.55,733.17 474.85,732.62 476.16,732.42 477.47,732.4 478.78,732.51 480.08,732.03 481.39,731.8 482.7,731.9 484.03,731.52 485.36,731.52 486.69,731.6 488.02,730.79 489.35,731.45 490.68,731.07 492.02,730.97 493.35,730.94 494.68,730.81 496.01,731.14 497.34,730.84 498.67,730.1 500,730.5 501.33,730.19 502.67,729.85 504,730.39 505.33,730.67 506.67,730.15 508,730.09 509.33,730.06 510.67,730.23 512,729.89 513.33,729.91 514.67,730.22 516,729.43 517.33,730.03 518.67,729.8 520,729.15 521.33,729.78 522.67,728.69 524,729.09 525.33,728.98 526.67,728.8 528,728.8 529.33,729.64 530.67,728.5 532,728.8 533.34,729.02 534.68,728.62 536.02,728.87 537.36,728.6 538.7,728.78 540.04,728.6 541.39,729.18 542.73,728.85 544.07,728.84 545.41,728.65 546.75,728.67 548.09,728.37 549.43,728.4 550.77,728.39 552.11,728.55 553.45,728.59 554.79,728.64 556.13,728.41 557.47,728.47 558.81,728.64 560.16,728.75 561.5,728.24 562.84,728.51 564.18,728.28 565.52,728.55 566.86,728.55 568.2,728.3 569.53,727.43 570.85,726.77 572.17,725.96 573.5,725.6 574.82,725.68 576.14,726.22 577.45,725.26 578.77,725.73 580.09,725.6 581.41,725.85 582.72,725.36 584.04,725.87 585.36,725.52 586.68,725.74 587.99,725.5 589.31,725.98 590.63,725.7 591.95,725.34 593.26,725.65 594.58,725.56 595.9,725.6 597.23,725.83 598.56,725.87 599.89,725.62 601.23,726.05 602.56,726.41 603.89,726.34 605.22,726.15 606.55,726.57 607.88,726.17 609.21,726.51 610.54,726.5 611.88,726.14 613.21,726.4 614.54,726.55 615.87,727.07 617.2,727 618.53,726.56 619.87,727.48 621.2,726.83 622.53,726.77 623.87,727.12 625.2,726.64 626.53,726.6 627.87,726.61 629.2,726.81 630.53,726.96 631.87,726.6 633.2,726.6" fill="none" stroke="#1f5fdc" stroke-width="1.25" stroke-linejoin="round"/>
<polyline points="375.2,735.1 382.6,741 389,742.5 408.2,740.4 425.2,731.9 457.2,727 500,725.6 633.2,725.6" fill="none" stroke="#1f5fdc" stroke-width="1.25" stroke-linejoin="round" stroke-dasharray="6.6 6.4"/>
<polyline points="375.2,790 376.59,789.86 377.98,789.85 379.38,789.49 380.77,789.73 382.16,789.32 383.55,789.24 384.95,789.91 386.34,789.04 387.73,789.22 389.12,788.24 390.52,789.42 391.91,788.72 393.3,788.7 394.62,788.72 395.95,788.77 397.27,788.01 398.6,787.47 399.93,787.26 401.25,787.14 402.57,787.02 403.9,786.6 405.24,785.98 406.57,785.44 407.91,784.94 409.25,783.97 410.59,783.68 411.93,782.76 413.26,782.16 414.6,781.9 416.02,780.95 417.43,780.67 418.85,779.77 420.27,779.19 421.68,778.5 423.1,778.1 424.52,777.96 425.94,778.33 427.37,777.78 428.79,778.01 430.21,777.31 431.63,777.66 433.06,777.37 434.48,777.54 435.9,777.7 437.23,777.74 438.56,777.92 439.89,777.8 441.22,778.52 442.56,777.31 443.89,778.47 445.22,777.63 446.55,777.85 447.88,778.38 449.21,778.51 450.54,777.94 451.88,778.43 453.21,778.72 454.54,778.45 455.87,778.66 457.2,778.7 458.53,778.73 459.86,779.24 461.19,778.67 462.52,779.22 463.86,779.38 465.19,779.07 466.52,779.03 467.85,778.89 469.18,779.03 470.51,779.43 471.84,779.3 473.18,779.38 474.51,779.8 475.84,779.54 477.17,779.07 478.5,779.4 479.84,779.52 481.19,779.36 482.53,779.15 483.88,779.82 485.22,779.61 486.56,779.36 487.91,779.79 489.25,779.51 490.59,779.51 491.94,779.68 493.28,779.78 494.62,779.86 495.97,779.93 497.31,780.19 498.66,780.04 500,779.9 501.33,779.79 502.66,780.21 503.99,779.98 505.32,779.92 506.66,780.19 507.99,780.06 509.32,780.12 510.65,780.25 511.98,779.93 513.31,780.08 514.64,780.43 515.98,780.58 517.31,780.39 518.64,779.97 519.97,779.9 521.3,780.17 522.63,780.18 523.96,779.55 525.29,779.92 526.62,779.89 527.96,780.51 529.29,780.18 530.62,779.89 531.95,779.95 533.28,780.52 534.61,780.16 535.94,779.8 537.27,779.94 538.61,780.06 539.94,779.81 541.27,779.9 542.6,780.3 543.92,780.83 545.23,780.61 546.55,780.22 547.86,780.76 549.18,780.6 550.49,780.75 551.81,780.43 553.12,780.44 554.44,780.72 555.75,781.51 557.07,780.54 558.38,781.03 559.7,781 561.05,780.63 562.41,780.54 563.76,780.11 565.12,780.32 566.47,779.58 567.83,780 569.18,778.86 570.54,778.9 571.89,778.97 573.25,778.67 574.6,778.2 575.93,778.28 577.26,778.48 578.59,778.74 579.92,777.99 581.26,778.71 582.59,778.85 583.92,778.84 585.25,778.96 586.58,779.03 587.91,779.1 589.24,779.64 590.58,779.64 591.91,779.81 593.24,779.29 594.57,779.86 595.9,779.9 597.25,780.01 598.59,780.19 599.94,779.99 601.29,780.51 602.64,780.19 603.98,780.69 605.33,780.33 606.68,780.76 608.03,780.4 609.37,780.73 610.72,780.97 612.07,780.66 613.42,780.91 614.76,780.92 616.11,781.44 617.46,781.58 618.81,781.02 620.15,781.05 621.5,781.6 622.8,781.63 624.1,781.28 625.4,780.88 626.7,781.12 628,780.62 629.3,780.47 630.6,779.84 631.9,780.33 633.2,779.9" fill="none" stroke="#f02a2a" stroke-width="1.25" stroke-linejoin="round"/>
<polyline points="375.2,800 382.6,795.8 389,791.5 403.9,781.9 414.6,778.7 430,778.1 633.2,778.5" fill="none" stroke="#f02a2a" stroke-width="1.25" stroke-linejoin="round" stroke-dasharray="6.6 6.4"/>
<path d="M374.2 634.3V810H634.7V634.3M370.9 800.27H374.2M634.7 800.27H638M372.2 790.54H374.2M634.7 790.54H636.7M370.9 780.82H374.2M634.7 780.82H638M372.2 771.09H374.2M634.7 771.09H636.7M370.9 761.36H374.2M634.7 761.36H638M372.2 751.63H374.2M634.7 751.63H636.7M370.9 741.91H374.2M634.7 741.91H638M372.2 732.18H374.2M634.7 732.18H636.7M370.9 722.45H374.2M634.7 722.45H638M372.2 712.72H374.2M634.7 712.72H636.7M370.9 702.99H374.2M634.7 702.99H638M372.2 693.27H374.2M634.7 693.27H636.7M370.9 683.54H374.2M634.7 683.54H638M372.2 673.81H374.2M634.7 673.81H636.7M370.9 664.08H374.2M634.7 664.08H638M372.2 654.36H374.2M634.7 654.36H636.7M370.9 644.63H374.2M634.7 644.63H638M372.2 634.9H374.2M634.7 634.9H636.7M374.2 810V813.3M399.45 810V812M424.7 810V813.3M449.95 810V812M475.2 810V813.3M500.45 810V812M525.7 810V813.3M550.95 810V812M576.2 810V813.3M601.45 810V812M626.7 810V813.3" stroke="#000" stroke-width="1.5" fill="none"/>
<path d="M655.2 634.3V810.7M655.2 810H658.2M655.2 790.54H657.2M655.2 771.09H658.2M655.2 751.63H657.2M655.2 732.18H658.2M655.2 712.72H657.2M655.2 693.27H658.2M655.2 673.81H657.2M655.2 654.36H658.2M655.2 634.9H657.2" stroke="#1a5fe0" stroke-width="1.6" fill="none"/>
<g font-family="Liberation Sans" font-weight="bold" font-size="9.8" fill="#111" stroke="#111" stroke-width="0.15"><text transform="translate(367.6 803.82) scale(1 1.1)" text-anchor="end">22</text><text transform="translate(640.5 803.82) scale(1 1.1)">22</text><text transform="translate(367.6 784.37) scale(1 1.1)" text-anchor="end">24</text><text transform="translate(640.5 784.37) scale(1 1.1)">24</text><text transform="translate(367.6 764.91) scale(1 1.1)" text-anchor="end">26</text><text transform="translate(640.5 764.91) scale(1 1.1)">26</text><text transform="translate(367.6 745.46) scale(1 1.1)" text-anchor="end">28</text><text transform="translate(640.5 745.46) scale(1 1.1)">28</text><text transform="translate(367.6 726) scale(1 1.1)" text-anchor="end">30</text><text transform="translate(640.5 726) scale(1 1.1)">30</text><text transform="translate(367.6 706.54) scale(1 1.1)" text-anchor="end">32</text><text transform="translate(640.5 706.54) scale(1 1.1)">32</text><text transform="translate(367.6 687.09) scale(1 1.1)" text-anchor="end">34</text><text transform="translate(640.5 687.09) scale(1 1.1)">34</text><text transform="translate(367.6 667.63) scale(1 1.1)" text-anchor="end">36</text><text transform="translate(640.5 667.63) scale(1 1.1)">36</text><text transform="translate(367.6 648.18) scale(1 1.1)" text-anchor="end">38</text><text transform="translate(640.5 648.18) scale(1 1.1)">38</text><text transform="translate(374.2 824.85) scale(1 1.1)" text-anchor="middle">0</text><text transform="translate(424.7 824.85) scale(1 1.1)" text-anchor="middle">1000</text><text transform="translate(475.2 824.85) scale(1 1.1)" text-anchor="middle">2000</text><text transform="translate(525.7 824.85) scale(1 1.1)" text-anchor="middle">3000</text><text transform="translate(576.2 824.85) scale(1 1.1)" text-anchor="middle">4000</text><text transform="translate(626.7 824.85) scale(1 1.1)" text-anchor="middle">5000</text></g>
<g font-family="Liberation Sans" font-weight="bold" font-size="9.8" fill="#1a5fe0" stroke="#1a5fe0" stroke-width="0.15"><text transform="translate(661.4 813.55) scale(1 1.1)">0.0</text><text transform="translate(661.4 774.64) scale(1 1.1)">0.2</text><text transform="translate(661.4 735.73) scale(1 1.1)">0.4</text><text transform="translate(661.4 696.82) scale(1 1.1)">0.6</text><text transform="translate(661.4 657.91) scale(1 1.1)">0.8</text></g>
<text font-family="Liberation Sans" font-weight="bold" font-size="9.8" fill="#111" x="504.45" y="837.8" text-anchor="middle">Time (min)</text>
<text font-family="Liberation Sans" font-weight="bold" font-size="8.7" fill="#111" text-anchor="middle" transform="translate(353.2 722.45) rotate(-90)">VWC(%)</text>
<text font-family="Liberation Sans" font-weight="bold" font-size="9.8" fill="#1a5fe0" text-anchor="middle" transform="translate(682.8 722.45) rotate(-90)">Rainfall (mm)</text>
<text font-family="Liberation Sans" font-weight="bold" font-size="8.9" fill="#111" stroke="#111" stroke-width="0.12" x="378.9" y="643.6">(h)</text>
<g font-family="Liberation Sans" font-weight="bold" font-size="8.0" fill="#111" stroke="#111" stroke-width="0.12"><path d="M521.5 635.9H539.9" stroke="#4f8fe8" stroke-width="1.0"/><text x="541.9" y="638.4">Rainfall (mm)</text><path d="M521.5 646H539.9" stroke="#3c3c3c" stroke-width="1.8"/><path d="M579.7 646H584.8M593.6 646H597.7" stroke="#3c3c3c" stroke-width="1.8"/><text x="541.9" y="648.5">Exp.-S1</text><text x="599.7" y="648.5">Sim.-S1</text><path d="M521.5 656.2H539.9" stroke="#f02a2a" stroke-width="1.8"/><path d="M579.7 656.2H584.8M593.6 656.2H597.7" stroke="#f02a2a" stroke-width="1.8"/><text x="541.9" y="658.7">Exp.-S2</text><text x="599.7" y="658.7">Sim.-S2</text><path d="M521.5 666H539.9" stroke="#1f5fdc" stroke-width="1.8"/><path d="M579.7 666H584.8M593.6 666H597.7" stroke="#1f5fdc" stroke-width="1.8"/><text x="541.9" y="668.5">Exp.-S3</text><text x="599.7" y="668.5">Sim.-S3</text></g>
</svg>
</body></html>
